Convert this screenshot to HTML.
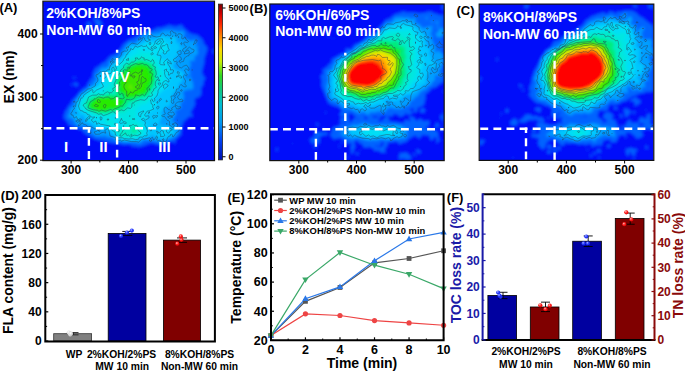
<!DOCTYPE html>
<html><head><meta charset="utf-8"><style>
html,body{margin:0;padding:0;background:#fff;width:685px;height:371px;overflow:hidden}
svg{display:block}
text{font-family:"Liberation Sans", sans-serif}
</style></head><body>
<svg width="685" height="371" viewBox="0 0 685 371">
<defs><clipPath id="clipA"><rect x="43" y="1.5" width="171.5" height="159.0"/></clipPath></defs>
<g clip-path="url(#clipA)" fill-rule="evenodd">
<filter id="blA" x="-5%" y="-5%" width="110%" height="110%"><feGaussianBlur stdDeviation="1.6"/></filter>
<g filter="url(#blA)">
<rect x="37" y="-4.5" width="183.5" height="171.0" fill="rgb(4, 10, 250)"/>
<path d="M43.6 6.0l0.5 1.0l-0.6 1.3l0.1 -2.3zM92.5 18.8l2 -0.4l5 1.5l2.4 3.1l0.2 1.0l-0.6 1.0l-3 2.6l-1.5 -1.6l-2.5 -5.4l-2.4 -1.6l0.4 -0.2zM89.5 21.9l1.7 2.1l0.2 1.0l-1.5 3.0l-1.4 0.6l-0.5 -0.6l0.3 -2.0l-1.6 -2.0l-0.2 -1.0l3 -1.1zM168.5 25.0l7 1.7l6 -1.9l3 4.2l2 0.9l2 2.6l4 1.7l4.8 0.8l5.2 4.5l1.5 4.5l2.5 2.4l0.8 1.6l-0.5 3.0l-2.7 8.0l0.3 3.0l-2.6 10.0l1.1 3.0l2.2 3.0l-0.1 1.0l-1.5 2.0l0 3.6l-2.7 3.4l0.6 6.0l-2.9 3.6l-3.3 0.4l-0.8 3.0l0.9 3.0l-5 9.0l2.2 1.6l0.4 1.4l-1.4 1.0l-2 -0.8l-1 0.5l-1 1.6l-3.6 2.7l-2.5 6.0l0.2 2.0l-0.7 3.0l0.5 2.0l-6.1 6.0l-0.2 1.0l0.7 1.0l-0.3 1.6l-1 -0.3l-1 -1.5l-2 -0.2l-10 3.2l-4 0.0l-5 -1.8l-2 0.0l-6 2.4l-6 1.5l-2 -0.7l-3 0.4l-4 -2.4l-6 0.6l-5 -1.5l-6 -0.4l-17.9 -3.9l-10.1 -6.2l-2 -3.1l-3 -0.5l-3 -1.7l-4 -0.9l-4.4 -2.6l-0.5 -1.0l0.2 -1.0l-2.2 -2.0l-2.1 -3.0l1.2 -3.0l0.1 -2.0l2.4 -3.0l0.7 -2.0l2 -2.0l2.6 -4.7l4.4 -4.3l1.6 -2.6l5 -5.2l3.2 -1.2l0.6 -1.0l0.4 -3.0l1.8 -1.0l1 -2.9l1.7 -1.1l0.9 -5.0l2.4 -5.0l3 -1.6l4 -3.4l2.8 -1.0l4.1 -5.0l3.1 -1.9l2 -0.1l1 -0.8l6 -6.6l1 -2.6l7 -5.4l3 -0.9l4 -2.4l6 -2.0l3 -3.2l6 -0.1l5.7 -3.0l1.3 -0.4l3 0.4l2 -1.1l2 -0.2l3 -1.7zM98.5 28.6l1 0.6l-1 0.6l0 -1.2zM98.5 31.8l0 1.8l-0.5 -0.6l0.5 -1.2zM212.5 49.7l2 0.0l0 4.8l-1.2 -1.5l-0.8 -3.3zM73.5 76.8l1 0.1l1.3 1.1l-1.3 0.8l-1 -0.5l0 -1.5zM74.5 82.8l2 0.2l1 0.7l0.7 1.3l-0.6 1.0l-1.1 0.3l-2.2 -1.3l-0.7 -1.0l0.9 -1.2zM71.5 84.0l1 -0.6l0.7 0.6l-1.7 2.5l0 -2.5zM43.5 107.0l0 1.5l0 -1.5zM182.5 133.7l1.1 0.3l-1.1 0.4l-0.9 -0.4l0.9 -0.3zM66.5 141.7l1.3 0.3l0.4 1.0l-0.7 0.7l-1.5 -0.7l0.5 -1.3z" fill="rgb(0, 100, 255)"/>
<path d="M166.5 30.0l3 0.5l2 -0.4l2 0.9l2 -0.2l4 1.0l1 0.0l1 -1.3l1 -0.1l1.5 1.6l0.8 2.0l-1.6 3.0l0.2 1.0l3.1 0.8l5 2.8l1 -1.6l1 -0.2l3 1.1l0.5 1.1l-1.7 4.0l1.2 0.9l1 -1.5l1.2 0.6l0 1.0l-1.7 1.0l1.2 5.0l-0.3 1.0l-2.9 2.0l-0.7 2.0l0.2 2.7l-1 0.5l-2 -1.1l-1.7 1.9l0.1 1.0l1.5 2.0l-2.2 2.0l0.7 1.0l-0.9 2.0l0.1 1.0l1.6 2.0l-1.2 2.0l0.1 1.0l0.9 0.3l1.4 4.7l1.3 2.0l-0.5 3.0l0.9 1.0l-0.1 1.0l-3 2.2l-1 -1.5l-1.7 1.3l-3.3 0.6l-1.4 1.4l-0.2 1.0l1.3 3.0l-0.4 2.0l-1.3 3.8l-2.3 2.2l1.4 3.0l-4.1 2.8l-2.8 1.2l0 1.0l2 2.0l-2 2.0l-1.2 3.1l-1.3 0.9l0.3 1.2l2 0.5l1 2.3l2.9 3.0l1.1 2.0l-1 4.3l-3 3.5l-9 4.5l-6 1.1l-2 -0.8l-3 -0.2l-2 -0.9l-9 -0.4l-1 0.0l-2 2.2l-3 1.5l-1 -1.2l-1.6 -0.6l-11.4 0.2l-6 -1.3l-2 0.1l-4 -3.7l-5 0.3l-2 -1.7l-1 -0.2l-3 1.0l-2 -1.1l-3 1.1l-3 -2.6l-3 -1.1l-1.1 -1.0l3.3 -1.0l0.5 -1.0l-0.7 -1.2l-5 -1.6l-1 -2.0l-6 1.0l-5 -1.6l-1 -3.4l-2 -2.3l-1 -0.8l-2 0.3l-1.2 -0.4l0 -3.0l2 -3.0l-0.6 -2.0l0.3 -1.0l4.5 -4.0l0.5 -4.0l3.5 -4.0l1.5 -3.0l7.5 -5.0l3 -3.8l1 0.4l2 -0.6l-0.3 -2.0l3.2 -3.0l0.4 -1.0l-1.4 -3.0l0.6 -2.0l2.5 -1.0l1.2 -3.0l1.8 -1.8l1 -0.6l3 0.1l3 -1.2l0.8 -1.5l-0.6 -2.0l5.5 -5.0l5.3 -1.0l1.4 -2.0l2.2 -5.0l2.1 -2.0l0.8 -2.0l1.8 -2.0l2.7 -1.8l3 1.1l2 -0.6l5.3 -5.7l3.7 -1.7l2 -1.5l7 0.0l3 -1.0l2 0.5l4 -2.6l4 -0.7zM190.3 54.0l0.2 1.4l1 -0.4l0.7 -1.0l-0.7 -0.4l-1.2 0.4zM186.4 76.0l-0.3 1.0l0.4 1.0l1 0.4l1.7 -1.4l0.2 -1.0l-0.9 -0.9l-2.1 0.9zM172.5 124.0l-1 1.0l1 0.3l0 -1.3zM192.5 68.8l0 0.4l-0.4 -0.2l0.4 -0.2zM195.5 78.9l0 1.2l-0.4 -0.1l0.4 -1.1zM185.5 102.8l0 0.6l-0.7 -0.4l0.7 -0.2z" fill="rgb(0, 158, 255)"/>
<path d="M169.5 33.0l1.5 1.0l-0.5 1.5l-1.4 -1.5l0.4 -1.0zM159.5 35.9l2 0.3l2 -0.6l6 2.0l5 -1.2l1.7 1.6l0.3 5.2l1 1.0l1 -2.2l1.3 0.0l-0.4 4.0l1.1 2.6l2 -1.9l0.9 1.3l-0.9 1.5l-3 -0.1l-1.5 1.6l0 4.0l-1.5 1.9l-1.9 1.1l0.9 4.0l-2 2.8l-0.3 1.2l0.9 2.0l2.4 1.9l4 0.9l2.4 1.2l0.5 1.0l-1.2 8.0l-3.2 3.0l-0.1 3.0l-0.9 2.0l-2 1.0l-3 4.0l-1.7 4.0l0.6 2.0l-1.9 4.0l0 2.0l-0.5 0.5l-3 -0.1l-2.4 1.6l-1.6 3.7l-1 0.0l-1 1.2l0.8 1.1l1.2 0.2l0.5 1.8l-2.2 2.0l-1.5 6.0l-0.1 1.0l1.3 0.5l2 0.1l2 0.8l4 -0.2l5.9 2.8l0.9 4.0l-0.8 1.3l-2 0.4l-1.3 1.3l-5.7 3.2l-6 -0.1l-2 0.5l-2 -2.9l-4 -1.4l-3 2.6l-4 0.0l-8 2.8l-11 -0.1l-5 -0.7l-3 -1.1l-3.4 -2.8l-2.6 -1.3l-2.5 -3.7l-1.5 -1.1l-6 -0.9l-3 -1.4l-2.1 0.4l-2.1 -1.0l-3.8 -3.7l-3 -0.4l-2.5 -1.9l-1.2 -4.0l-1.3 -1.4l-2 -0.5l-0.8 0.9l0.7 3.0l-0.9 1.0l-3 -1.8l-1 -1.7l-1.5 -0.5l-0.7 -1.0l1.2 -1.1l2 1.8l2.9 -1.7l-0.9 -1.4l-2.7 -1.6l0.4 -4.0l1.4 -6.0l3.9 -5.6l6.1 -4.4l2.9 -2.7l5 -2.1l1.4 -1.2l2.9 -4.0l0.2 -1.0l-0.7 -3.0l2.2 -4.4l1 -1.0l3 -0.7l3 -1.8l4 -4.9l2 -0.6l2 -3.0l3 -1.7l3.4 -2.9l2.6 -3.9l2.9 -2.1l1.4 -4.0l0.7 -0.6l4 0.3l5 -2.4l2 -1.6l3 -0.6l2 -1.9l3 -1.2l5 1.6l2.6 -2.6l2.4 -1.1zM176.3 83.0l0.2 0.4l0.7 -0.4l-0.9 0.0zM151.6 125.0l3.9 2.0l2.9 -1.0l-0.4 -1.0l-4.5 -0.9l-1 0.0l-0.9 0.9zM178.5 36.0l1 -0.4l0.3 0.4l-0.3 0.4l-1 -0.4zM172.5 104.7l0 0.6l0 -0.6z" fill="rgb(0, 198, 254)"/>
<path d="M160.5 39.6l2 -0.4l1 0.4l1 2.7l2 0.3l3.2 4.4l-0.2 1.5l-3.7 5.5l-1.3 0.6l-0.6 -0.6l-1.4 -3.4l-1 0.4l-1 4.0l0.4 4.0l0.6 0.7l6.2 0.3l0 3.0l1 2.0l-0.4 3.0l2.2 1.5l0.5 1.5l-1.5 1.0l-0.4 1.0l1.3 2.0l-4 2.0l1.1 2.0l2 0.5l1 1.5l-2 0.9l-1 -0.5l-1.2 1.6l0.2 1.4l2.2 1.6l0.2 1.0l-3.4 1.4l-3.1 2.6l-8.7 9.0l-0.1 1.0l0.9 0.8l2.8 1.2l0 2.0l-2.8 1.9l-1.1 3.1l-2.9 1.0l-1.6 2.0l-2.7 1.0l-0.4 1.0l2 2.0l-1.3 2.7l-1 0.6l-2 -1.1l-1 0.6l0.2 1.2l0.8 0.9l2 0.7l1 1.4l-1.2 2.0l1.8 2.0l-0.3 3.0l1.5 2.0l-0.8 2.5l-3 0.0l-3 2.0l-3 0.4l-3 1.5l-10 0.0l-5 -0.8l-5.5 -3.6l-3 -4.0l-4.5 -3.8l-10.5 -3.2l-2.5 -2.4l-2 0.0l-3.8 -2.6l-0.1 -3.0l-2.1 -2.3l-6 -2.7l-1 -2.0l-0.3 -5.0l0.9 -3.0l2.4 -3.8l8 -7.4l8.8 -3.8l2.2 -4.0l2.7 -2.0l0.3 -3.0l2 -3.6l2 -1.4l1 0.8l1 -0.5l0.5 -3.3l0.7 -1.0l7.8 -5.8l3.8 -4.2l3.2 -2.3l2.1 -0.7l0.3 -2.0l2.1 -2.0l0.8 -2.0l10.7 -3.0l4 -3.2l10 0.5l4 -3.7zM157.4 55.0l1.1 0.5l2 -0.5l-2 -0.7l-1.1 0.7zM166.5 128.6l1 -0.3l0.7 0.7l-0.1 1.0l-3.3 3.0l-1.3 3.0l-2 -0.6l-0.5 -0.4l0.2 -1.0l2.4 -2.0l-0.4 -2.0l3.3 -1.4z" fill="rgb(0, 222, 246)"/>
<path d="M138.5 49.0l2 0.1l0.9 0.9l0.1 1.2l4 1.5l5.2 -0.7l0.9 1.0l-1 1.0l6.2 5.0l2.7 8.3l4.1 5.7l-0.1 1.7l-2.3 2.3l0.2 1.0l2.1 -0.7l0.6 0.7l-0.1 1.0l-1.8 1.0l-2.2 3.0l0.4 4.0l-5.1 5.0l-1.1 4.0l-2.7 1.8l-4 5.1l-4 1.9l-2 -0.6l-1.9 1.8l-1.1 2.1l-3.2 2.9l0.3 1.0l1.7 1.0l-0.2 1.0l-2.1 2.0l1.5 4.3l2 2.2l2 0.5l2.3 4.0l0.7 3.0l-0.1 3.0l-0.6 1.0l-7.3 3.8l-10 0.3l-4 -0.5l-2 -0.6l-3.8 -3.0l-0.4 -3.0l-1.2 -2.0l0.5 -1.0l2.9 -0.9l6 0.4l1.3 -1.5l0.7 -3.0l-2 -2.2l-3 -1.5l-2 -0.3l-0.7 -1.0l-0.3 -2.4l-5 -0.5l-4 1.9l-0.8 1.0l1.8 1.5l3 -0.7l2.7 2.2l-0.6 5.0l-1.1 1.4l-6.6 -3.4l0.2 -1.0l-0.6 -0.4l-2.1 -0.6l-0.2 -1.0l0.9 -3.0l-0.6 -0.7l-7 -1.3l-3 0.2l-9 -5.2l-3.8 -4.0l-0.9 -3.0l2.1 -4.0l4.3 -4.0l3.3 -4.0l1 -0.4l2 0.7l2 -1.5l6 1.9l2 -1.7l0.2 -2.0l0.8 -1.3l1 -0.5l3 -0.1l0.6 -2.1l-0.9 -2.0l2.4 -2.0l0.1 -3.0l2.7 -2.0l1.1 -3.2l3.1 -4.8l6.9 -7.8l2 -0.1l2 -1.0l2.2 -2.1l2.8 -1.1l2 -1.7l2 -0.7l2 0.2l1.2 -0.7l0.6 -1.0l-4 -1.0l-0.2 -1.0l1.4 -1.0z" fill="rgb(0, 230, 225)"/>
<path d="M135.5 57.8l5 -0.6l2 1.2l3 -0.3l1 1.0l3 0.7l4.8 3.2l1.9 3.0l1 3.0l1 4.0l-0.2 4.0l0.7 2.0l-0.1 1.0l-1.6 2.0l-0.2 5.0l-4 5.0l-1.3 2.5l-3.3 3.5l-1.7 1.6l-1 0.4l-3 -0.4l-3 1.9l-3 1.1l-3 3.6l-1 0.8l-3 0.2l-1 0.6l-1.7 3.2l-4.3 2.4l-2 -0.8l-4 0.7l-3 -0.7l-2.1 0.4l-3.9 2.1l-6 -1.1l-3 0.6l-9 -3.0l-3 -2.3l-3 -4.3l1.1 -3.0l2.4 -3.0l4.5 -3.3l7 -1.4l5 -0.1l4 -2.2l4.1 0.0l0.4 -2.0l1.1 -2.0l0.3 -4.0l2.2 -7.0l0.9 -2.1l2.8 -2.9l1.9 -4.0l3.3 -4.1l3.1 -0.9l3.9 -3.5l1 -0.2l1 0.6l2 -2.1zM132.5 124.9l4 0.7l1.8 1.4l2.2 4.2l0.2 1.8l-5.2 2.5l-3 0.6l-4 -0.8l-6 1.1l-2.2 -0.4l-1.3 -5.0l0.5 -0.5l5 -1.6l2 -1.2l3 -0.4l3 -2.4z" fill="rgb(0, 235, 198)"/>
<path d="M138.5 60.7l2 -0.2l8 1.8l5 3.7l0.7 3.0l1.3 2.5l0.2 1.5l-0.8 3.0l0.2 4.0l-1 5.0l-5.9 10.0l-3.7 1.9l-6 1.1l-3 1.9l-7 2.4l-0.8 0.7l-0.8 3.0l-2.4 2.3l-8 3.1l-6 0.1l-4 1.8l-4 -0.6l-3 0.6l-9 -2.9l-2 -1.4l-1.3 -2.0l-0.4 -4.0l4.7 -4.8l8 -2.5l4 0.1l7 -1.5l4 0.6l2.6 -0.9l-2.5 -3.0l1.7 -4.0l-0.5 -3.0l1.1 -3.0l0.2 -3.0l2.7 -3.0l2.2 -5.0l4.5 -4.3l5 -2.4l4 -1.1l3 -1.5zM133.5 128.8l1.7 0.2l0.9 1.0l-0.6 1.6l-2 1.0l-1.2 -0.6l-0.5 -2.0l1.7 -1.2z" fill="rgb(0, 235, 127)"/>
<path d="M139.5 62.9l3 1.3l4 0.5l3.5 2.3l0.9 3.0l1.7 2.0l1 7.0l-1.6 3.0l-1.7 6.0l-4.8 6.2l-8 2.3l-3 1.6l-4 -0.2l-2 0.8l-3.3 0.3l-0.8 -4.0l-1.9 -1.6l-2 0.1l-2.7 -3.5l1.4 -3.0l-0.9 -3.0l1.1 -5.0l3.4 -6.0l4.7 -3.9l1.2 -2.1l10.8 -4.1zM99.5 97.0l6 0.2l4 -1.0l5 1.0l2 -0.2l4 1.7l3.6 0.3l0.8 3.0l-3.4 4.3l-6 2.9l-6 0.9l-3 1.4l-4 -0.1l-3 0.6l-8.4 -3.0l-1.6 -1.5l-0.6 -1.5l1.2 -3.0l2.9 -3.0l3.5 -2.2l3 -0.8z" fill="rgb(12, 235, 28)"/>
<path d="M134.5 66.9l2 -0.7l3 0.3l4 0.9l4 2.1l2 5.9l0.5 4.6l-1.5 3.8l-2 0.2l0.2 1.0l-1.3 4.0l-2.2 3.0l-8.7 3.6l-7 0.1l-1 -0.6l-4.7 -7.1l-1 -6.0l3.7 -7.3l4 -2.9l2 -2.2l2 -0.4l2 -2.3zM97.5 98.8l9 0.0l3 -0.5l8.5 3.7l0.7 1.0l-1.7 3.0l-2.5 1.7l-6 0.3l-3 1.6l-8 -0.2l-2 -0.8l-3.5 -3.6l0.2 -1.0l2.3 -1.2l1.6 -2.8l1.4 -1.2z" fill="rgb(38, 235, 2)"/>
<path d="M141.5 69.9l1.1 0.1l0.3 1.0l-0.4 0.7l-1 -0.1l-0.4 -0.6l0.4 -1.1zM135.5 71.3l4 0.7l2.3 3.0l0.5 3.0l-1.8 2.5l-0.3 1.5l0.1 1.0l2 2.0l-0.2 1.0l-1.2 3.0l-1 1.0l-4.4 0.6l-3 1.9l-3 0.8l-2 -0.2l-3.9 -6.1l1.9 -8.5l2.3 -0.5l1 -2.0l4.7 -2.7l2 -2.0zM97.5 101.0l1 -0.5l0.8 0.5l0.5 1.0l-0.3 1.1l-1 0.5l-1 -1.3l0 -1.3z" fill="rgb(59, 232, 0)"/>
<path d="M129.5 84.5l1 -0.4l1.4 2.9l1.3 1.0l0.2 1.0l-0.9 0.8l-2.2 -0.8l-2.2 -2.0l1.4 -2.5z" fill="rgb(101, 233, 0)"/>
</g>
<path d="M171.5 30.8l1 0.3l1 1.6l2.1 0.3l0.6 1.0l-1 2.0l1.8 0.0l1.5 -2.3l2.6 0.3l1 1.0l-0.4 3.0l0.5 1.0l1.3 -0.3l1 -1.7l1.5 1.0l-0.4 1.0l2.6 2.0l0.1 1.0l-0.8 0.6l-3 -0.7l-0.9 1.1l0.9 2.0l2 2.0l-3.5 2.0l-0.4 1.0l0.1 1.0l1.9 1.0l-0.3 2.0l4.7 -1.0l0.5 -1.0l-1 -1.7l-1 0.0l-2 1.2l-0.2 -0.5l4.2 -4.1l2 2.2l2 0.2l0.7 0.7l-0.7 2.1l-4 1.8l-1 2.0l-1 0.0l-3.1 2.1l-0.9 3.4l-2 0.4l-1 0.9l-1.2 -0.7l-0.3 -1.0l2.2 -1.0l0.3 -1.0l-0.8 -2.0l-2.2 -1.4l-2.6 2.4l-2.1 1.0l-0.5 1.0l1.2 1.8l2 -0.6l0.9 0.8l-0.7 1.0l0.1 1.0l2.7 3.4l2 0.5l2 -1.7l3 -1.2l2.2 3.0l0.4 2.0l-0.6 0.5l-2 -1.4l-1 0.0l-1 0.9l1.9 4.0l1 1.0l-0.9 0.7l-2 -0.8l-1.2 1.1l0.2 1.4l2.2 3.6l-1 3.0l1.8 2.0l-0.8 1.0l-0.7 0.0l-2.5 -1.0l-1 -1.4l-1 0.4l-1.1 1.0l0 2.0l-0.9 0.8l-2 0.3l-0.5 2.9l-1 1.0l-1.4 3.0l-2.4 0.0l-0.2 1.0l0.7 2.0l-0.5 2.0l0.3 1.8l1 0.6l1 -0.2l0.5 -1.2l-1.1 -2.0l2.5 -2.0l-0.8 -2.0l1.9 -1.3l0.2 -1.7l0.8 -0.7l2 -0.1l0.4 0.8l-0.4 1.7l-2.2 2.3l2.2 2.9l2 -0.8l1.3 0.9l0 1.0l-0.3 0.5l-5 0.5l-2 2.0l-0.3 1.0l0.3 0.7l1 -0.2l2 1.3l2 -0.1l0.2 1.3l-2.2 0.8l-2 0.0l-1 -2.5l-1 -0.1l-2.9 1.8l0.6 2.0l-1.7 0.8l-1 -1.2l-1 0.1l-1.4 -1.7l-1.6 -0.8l-1 0.5l-0.5 1.3l0.3 3.0l1 1.0l-0.2 1.0l-0.6 0.7l-2 0.2l-0.9 1.1l0.9 0.6l2 -0.1l3 4.0l1 -0.1l0.7 0.6l0.6 3.0l-0.9 1.0l2.6 1.2l1 1.4l1.9 -1.6l-0.9 -1.9l-1 0.7l-0.5 -0.8l1.5 -0.1l0.7 -0.9l1.3 -0.2l2 1.2l0.3 2.0l-1 1.0l2.6 2.0l-0.2 1.0l-0.7 1.4l-2 1.0l-3 4.3l-1 -0.2l-0.1 -1.5l-0.9 -1.0l-1 0.5l-0.3 1.5l-1.7 0.4l-1.1 1.6l-0.9 3.1l-1 0.5l-3 -0.4l-1 1.1l-0.7 -0.3l0.3 -1.0l-0.6 -0.4l-1 -0.3l-2 0.6l-0.9 -0.9l1.1 -3.0l-1.2 -1.1l-0.7 2.1l-2.3 2.0l-1 -2.7l-2 1.2l-1 -0.7l-5 1.3l-2.3 -0.1l-3.7 3.1l-2 -0.5l-5 0.0l-7 -1.6l-3 1.1l-1 -0.9l-4 0.5l-1.1 -0.7l0.1 -2.4l-5.5 -1.6l-0.9 -5.0l-1.6 -2.5l-2.3 1.5l-0.5 1.0l0.9 1.0l-0.1 1.2l-2 -0.9l-2.5 0.7l-1.5 1.1l-4 0.2l-1.5 -2.3l2.5 -0.6l1.8 -1.4l-1.8 -1.3l-2 0.0l-4 -2.3l-3 0.5l-1.1 -1.9l-3.5 -1.0l-0.4 -1.3l-0.9 0.3l-1.1 2.0l-2 1.0l-0.1 -1.0l1.8 -2.0l-0.1 -1.0l-0.6 -0.8l-2 1.1l-1.8 -1.3l2.8 -1.0l2 1.0l1.1 -1.0l-1.1 -1.2l-1 0.0l-1 1.2l-1 -0.7l-1 -2.7l-2 1.2l-1 -0.5l-0.5 -2.3l-1.8 0.0l-0.3 -2.0l1.4 -1.0l-0.1 -1.0l2.5 -3.0l-1.3 -1.0l0 -1.0l1.1 -0.1l1 0.7l0.7 -4.6l1.3 -0.3l0.5 -0.7l0.3 -2.0l3.2 -5.3l2 -1.0l4.3 -3.7l2.7 -0.3l4.6 -2.7l0.5 -1.0l-0.1 -1.5l2 -2.1l0.5 -1.4l-0.5 -2.0l-1.6 -2.0l0.6 -1.4l2 -0.5l2 -2.4l1 0.4l2 -0.7l2 0.0l1.1 -0.4l0.9 -1.3l2 0.3l-0.4 -1.0l1.4 -3.6l1.7 -1.4l-1.7 -1.1l0 -1.6l1.3 -0.3l0.7 1.8l1 0.0l1 -0.8l-2 -1.3l-0.7 -1.7l0.7 -0.5l2 1.4l2 -1.6l1 0.8l1 -0.7l2.8 -3.4l0.1 -2.0l0.8 -1.0l2.3 -1.0l2 0.2l1.6 -1.2l-1.6 -1.6l0 -0.9l1 -0.5l1 0.8l0.1 -1.8l2.9 -2.5l1 -0.3l5 1.2l3.7 -3.4l0.8 -1.0l0.2 -2.0l1.3 -0.7l1 0.8l0.4 1.9l1 1.0l1.6 0.6l1 -0.4l1 -1.1l1 -0.1l-2.5 -1.0l0 -3.0l0.5 -0.6l3 -1.0l0.9 1.6l4.1 1.0l4 -0.7l0.7 -2.3l1.3 -0.8l1 0.2l2 2.5l2 -1.1l2 1.0l1 -0.3l0.6 -1.5l-1.1 -2.0l1.5 -1.2M172.5 35.9l0 0.6l0.6 -0.5l-0.6 -0.1M150.5 36.8l-0.4 0.2l0.4 0.2l0.7 -0.2l-0.7 -0.2M178.5 36.5l-0.4 0.5l0.4 0.7l0.5 -0.7l-0.5 -0.5M139.5 37.7l1.6 0.3l-0.2 1.0l-2.4 1.2l-0.2 -1.2l1.2 -1.3M170.5 37.7l0 1.0l1 0.5l0.3 -1.2l-1.3 -0.3M195.5 39.9l1.5 0.1l0.2 1.0l-1.7 2.5l-1 0.1l-0.4 -0.6l1.4 -3.1M171.5 41.3l-0.6 1.7l0.6 0.9l0.6 -1.9l-0.6 -0.7M181.5 42.5l-0.9 1.5l0.9 0.7l0.6 -1.7l-0.6 -0.5M193.5 43.8l0.4 0.2l-0.4 1.1l0 -1.3M179.5 50.8l-2.6 1.2l1.6 2.4l2 0.2l0.6 -0.6l-0.1 -3.0l-0.5 -0.5l-1 0.3M192.5 69.9l-0.7 0.1l0.7 -0.1M189.5 79.2l1 -0.1l0.5 0.9l-0.5 0.6l-1 0.2l0 -1.6M89.5 84.8l0.6 0.2l-0.6 0.3l0 -0.5M173.5 86.6l0 1.9l0 -1.9M181.5 89.5l0.8 0.5l-0.8 1.4l-0.8 -0.4l0 -1.0l0.8 -0.5M166.5 100.1l-0.4 0.9l0.4 1.2l1 -1.2l-1 -0.9M73.5 101.5l1 -0.3l0.6 0.8l-1.6 0.2l0 -0.7M75.5 112.8l1.1 0.2l-1.1 -0.2M168.5 112.3l2 -0.2l1 0.6l1 -0.7l1 0.2l0.9 1.8l-0.3 1.0l-1.6 0.8l-2 0.1l-2.8 -1.9l0.8 -1.7M167.5 116.9l3 -0.9l2.3 1.0l-3.3 1.4l-2 -1.5M177.5 119.9l0 0.4l0 -0.4M154.5 123.4l-1.5 1.6l0.5 0.5l2 0.2l1.5 -0.7l-0.1 -1.0l-1.4 -1.0l-1 0.4M166.5 123.5l0 0.7l0.8 -0.2l-0.8 -0.5M99.5 129.6l-0.9 0.4l-0.2 1.0l1.1 0.6l0.5 -0.6l-0.5 -1.4M90.5 131.6l0.6 0.4l-0.6 1.8l-0.6 -0.8l0.6 -1.4M163.5 138.6l-0.7 0.4l-0.4 1.0l1.1 0.8l0.5 -1.8l-0.5 -0.4M149.5 139.9l1 -0.8l1.1 0.9l0 1.0l-1.1 0.4l-1 -0.4l0 -1.1" fill="none" stroke="#2a3a50" stroke-opacity="0.75" stroke-width="0.6"/>
<path d="M158.5 39.0l4 -0.2l0.1 1.2l1.3 2.0l-1.6 1.0l-1.3 2.0l-1.5 5.0l-1.4 2.0l0 1.0l-1.2 2.0l3.6 0.4l0.6 1.6l-1.1 4.0l-0.2 3.0l0.7 0.6l4.4 0.4l-1.2 -2.0l0.1 -1.0l3.7 -3.3l1 1.8l2 1.1l1 2.4l-2.5 -1.0l-1.5 -1.4l0.4 2.4l2.6 4.0l-0.2 2.0l2.2 -0.3l0.8 0.3l0.3 1.0l-1.1 2.3l-2 0.1l-1 1.8l-1 -0.1l-0.1 -3.1l-2 -1.0l0.3 -2.0l-2.5 1.0l0.7 2.0l-0.5 1.0l1.1 3.7l3.3 3.3l0.2 2.0l-1.5 -0.1l-1 -1.3l-1 0.0l-2.4 1.4l-1.1 4.0l-1.8 1.0l-2.4 4.0l0.4 1.0l-1.3 4.0l-2.2 2.0l-0.4 1.0l0.9 1.0l-1.7 1.8l-1 -0.8l0 -1.3l-1 -0.6l-1 0.9l0.9 4.0l1.7 1.0l-0.5 2.0l1.2 2.0l-4.3 1.8l-2.2 0.2l-2.8 4.0l1 1.3l3 -0.6l0.7 1.3l-0.3 1.0l-3.4 2.1l-2 -1.8l-2 0.7l0.4 1.0l2.6 0.8l1.1 2.2l-0.9 2.0l1.4 2.0l1.4 4.0l-0.9 2.0l0.7 2.0l-0.8 1.0l-2 -0.3l-2 1.5l-3 -0.2l-1 2.2l-1 0.2l-2 0.2l-3 -0.9l-4 0.3l-4 -0.4l-2 -0.8l-4 -0.1l-3.1 -2.7l-0.3 -3.0l-2.6 -1.4l-2.8 -2.6l0.4 -2.0l-9.6 -1.8l-2 -1.4l-1 1.3l-1 0.1l0.1 -1.2l-0.9 -2.0l-2.2 1.3l-2.3 -2.3l3.7 -3.0l-2.4 0.2l-2 -0.6l-0.8 -1.6l-2.2 -0.4l-1 -1.7l-3.3 -0.9l-0.7 -1.2l-2 -0.1l-1.1 -1.7l-0.9 -3.0l2.2 -7.0l0.4 -1.0l1.4 -0.2l0.9 -0.8l-0.1 -1.0l1.8 -2.0l6.4 -4.1l1 -0.3l0.4 0.4l-0.2 2.0l0.8 0.9l3 -2.8l6.7 -3.1l0.2 -1.0l-2.2 -4.0l0.2 -1.0l1.1 -2.5l2 -0.1l2.2 -2.4l-0.4 -1.0l-1.9 -1.0l0 -1.0l1.8 0.0l0.3 0.9l4 -0.3l1.8 -2.6l-0.7 -2.0l0.9 -1.5l1 -0.5l0.9 2.0l-0.4 1.0l0.5 0.5l1 -0.2l1.1 -2.3l-1.7 -2.0l1.8 -2.0l0.6 -2.0l0.4 0.0l0.1 1.0l0.7 0.8l1 0.5l3.6 -3.3l0.4 -1.7l2 -2.2l1 -2.8l1 -0.1l0.8 -2.2l1.8 -1.0l0.4 -2.3l1 0.0l1.1 1.3l2.8 -4.0l2.1 1.2l4 -1.6l2 1.0l3 -0.5l1.2 0.9l0.8 1.8l2 0.4l1 1.5l1 0.0l0.6 -1.7l-0.6 -0.4l-1 0.3l-0.5 -1.9l1.5 -0.3l2.1 -2.7l0.8 -3.0l3.1 -2.0M159.5 40.7l-2.8 2.3l-0.1 1.0l1.9 0.3l3 -2.3l-1 -1.3l-1 0.0M149.5 42.5l1 -0.2l0.4 0.7l-0.4 1.6l-1 0.2l-0.5 -0.8l0.5 -1.5M146.5 44.9l0 0.5l0 -0.5M165.5 44.7l1 -0.6l1 0.4l0.7 3.5l1.2 2.0l-0.9 0.9l-1.5 0.1l-0.6 2.0l-0.9 1.0l-1 0.0l-1.5 -1.0l1.1 -2.0l-2.4 -2.0l-0.4 -1.0l1.2 -2.3l2 0.0l1 -1.0M154.5 46.7l-0.9 1.3l0.9 0.5l1.9 -0.5l-0.1 -1.0l-0.8 -0.6l-1 0.3M143.5 49.3l-0.6 0.7l0.6 0.4l1.4 -0.4l-1.4 -0.7M152.5 52.5l-1.9 1.5l0.9 0.8l1.9 -0.8l-0.9 -1.5M127.5 58.9l-1.5 1.1l2.5 0.4l0 -2.2l-1 0.7M177.5 71.6l1.5 0.4l0.5 0.9l-1 1.4l-1.3 -1.3l0.3 -1.4M100.5 75.0l0.5 1.0l-0.5 1.0l-0.6 -1.0l0.6 -1.0M176.5 76.0l2 -0.1l1 -0.7l2 1.4l0.1 1.4l-1.1 0.0l-2 -1.9l-2 1.2l0 -1.3M170.5 77.7l0.6 0.3l-0.6 0.9l-0.8 -0.9l0.8 -0.3M158.5 82.9l-0.4 1.1l1.4 1.3l1 -1.3l0.1 -1.0l-2.1 -0.1M165.5 83.8l2 0.9l0.7 1.3l-3.7 2.9l-0.9 -0.9l0 -3.0l1.9 -1.2M103.5 90.8l-0.6 0.2l0.6 -0.2M160.5 98.3l1.1 0.7l-2.1 2.4l-0.5 -0.4l0.1 -1.0l1.4 -1.7M157.5 101.3l0.6 0.7l-0.6 1.3l-0.7 -0.3l0.7 -1.7M154.5 104.0l0 1.2l0 -1.2M157.5 106.2l1 0.0l0.7 0.8l-0.7 1.4l-1 0.4l-1.1 -0.8l1.1 -1.8M143.5 110.8l-4.9 2.2l0 2.0l0.9 1.6l1.1 0.4l0.4 -3.0l2.6 -2.0l-0.1 -1.2M149.5 111.7l0 1.3l-1 0.5l0 -1.2l1 -0.6M157.5 112.6l0 0.8l0 -0.8M153.5 115.4l2 0.5l2 -0.3l0.3 0.4l-1.3 1.6l-1 -0.6l-2 1.5l-0.9 -2.5l0.9 -0.6M88.5 116.6l1.5 0.4l-0.5 1.6l-2 0.4l-0.6 2.0l-1.4 0.4l-0.3 -0.4l1.3 -2.4l2 -2.0M100.5 116.8l-0.5 0.2l0.5 3.2l1 -0.2l0.6 -2.0l-0.6 -1.0l-1 -0.2M96.5 117.1l0 1.1l0 -1.1M115.5 117.2l-0.6 0.8l0.6 0.7l0.4 -0.7l-0.4 -0.8M121.5 118.3l-1.8 3.7l0.1 1.0l0.7 0.6l3 -1.0l1 1.3l2 -0.7l-1 -1.4l-2 -0.1l-1.6 -1.7l-0.4 -1.7M114.5 123.7l0 1.1l1 0.5l2 -0.7l0.2 -0.6l-2.2 -0.6l-1 0.3M123.5 125.7l-0.4 0.3l0.4 0.5l0.6 -0.5l-0.6 -0.3M150.5 127.3l0.7 0.7l0.4 2.0l-0.1 0.7l-1 0.2l-1.1 -1.9l0.2 -1.0l0.9 -0.7M168.5 127.9l3 0.9l0.8 1.2l-1.8 0.4l-1 2.0l-1 0.7l-1 -0.3l-1.4 -1.8l1.4 -2.8l1 -0.3M156.5 131.0l1 0.1l0.9 0.9l0 1.0l-0.9 0.7l-1 -2.7M161.5 130.5l1.8 0.5l0.2 2.0l1.3 2.0l-0.4 1.0l-0.9 0.4l-3 0.1l-0.2 -0.5l0.7 -1.0l-1.2 -2.0l0.1 -1.0l1.6 -1.5" fill="none" stroke="#2a3a50" stroke-opacity="0.75" stroke-width="0.6"/>
<path d="M141.5 56.7l1 0.9l1.9 0.4l-0.6 1.0l0.7 1.2l2 -0.7l3 1.2l1 1.0l1 -0.4l1 -1.9l0.8 0.6l1.1 3.0l-1.9 2.0l1 1.3l2 0.7l-0.7 2.0l1.1 2.0l0.4 3.0l-0.1 1.0l-1 1.0l0 1.0l1.3 0.4l1 -0.6l0.7 0.2l0.2 2.0l1.4 1.0l-0.3 1.0l-1 -0.2l-1 -1.7l-2 2.7l-0.3 3.2l1.2 2.0l-0.8 1.0l-2 1.0l0.2 1.0l-2.4 3.0l1.4 2.0l-0.9 1.0l-1.4 0.4l-2 -0.4l-2 3.1l-2 1.2l-4 -0.6l-5 1.5l-1.3 0.8l-0.7 1.3l-1 -0.5l-0.6 1.2l0 3.0l-1.4 1.4l-3 -0.5l-3 2.5l-1 0.3l-2 -0.8l-3 1.1l-2 3.1l-1 -0.3l-1 -1.8l-2 -0.2l-5 2.5l-4 1.3l-1.3 -0.6l-0.7 -1.3l-3 0.6l-2 -1.4l-8 -2.5l-2.6 -1.4l-0.4 -1.1l-2.2 -1.9l0 -1.0l1.2 -1.4l2 -0.6l2.1 -6.0l3.9 -1.8l4 -0.1l2 -1.4l2 1.1l1 -0.3l2 0.6l1 -1.7l3 -1.6l2 0.9l2 0.0l1.8 -1.7l0.2 -1.0l-1.1 -1.0l2.8 -2.0l0.4 -1.0l-1.1 -0.5l-0.3 -1.5l1.9 -4.0l-0.2 -3.0l1.9 -1.0l2 -3.0l1 -3.0l2.7 -2.0l0.2 -2.0l0.8 -1.0l2 -2.0l2 1.2l1 -0.1l2 -1.9l2 -0.2l2.6 -2.0l-1 -2.0l2.4 -0.1l0.2 1.1l0.8 0.4l2 -0.9l1 -1.8M160.5 75.5l0.6 0.5l-0.6 0.5l-0.6 -0.5l0.6 -0.5M109.5 93.7l0 0.5l0 -0.5M134.5 104.8l0 0.4l0 -0.4M129.5 115.8l0.7 0.2l-0.7 0.3l0 -0.5M107.5 118.9l1.2 0.1l-0.1 1.0l-1.6 0.0l0.5 -1.1M132.5 118.9l2 -0.4l0.5 0.5l-0.5 0.7l-2.5 -0.7l0.5 -0.1M132.5 124.7l1 -0.2l1 1.1l2 -0.4l0.8 0.8l1.3 2.0l-0.9 2.0l2.8 2.3l0.4 0.7l-0.3 1.0l-3.1 1.6l-3 -0.4l-2 0.5l-1 1.2l-1 0.1l-2 -1.9l-1 0.5l-1 -0.4l-1 -2.3l-4 3.2l-1.6 -0.1l0 -1.0l2.5 -3.0l0.1 -1.2l4 -2.9l3 0.5l0.8 -1.4l-1 -1.0l0.2 -0.5l2 -0.1l1 -0.7M118.5 129.7l1.1 0.3l-1.1 2.1l-0.8 -1.1l0.8 -1.3M131.5 134.1l-1 0.9l1 0.6l0.6 -0.6l-0.6 -0.9" fill="none" stroke="#2a3a50" stroke-opacity="0.75" stroke-width="0.6"/>
<path d="M135.5 63.6l3 0.8l4 -1.0l2 1.3l2 0.0l2 1.5l1 2.0l2 0.5l0.8 1.3l-2.8 2.0l3.4 2.0l-1.6 4.0l0.6 2.0l-0.8 4.0l-1.6 1.5l-1 1.9l-1.4 0.6l-0.3 1.0l1.1 2.0l-1.7 2.0l-0.7 2.1l-1 0.7l-2 -1.5l-3 1.6l-4 -1.1l-0.5 2.2l-1.5 1.8l-3 1.1l-4 -0.7l-1.4 3.8l-1.6 1.4l-1 1.9l-2 -0.5l-1 1.3l-5 1.8l-2 1.4l-2 -0.8l-5 1.8l-4 -1.2l-1.6 0.9l-1.4 0.1l-1 -0.8l-4 -0.5l-5.3 -1.8l-0.2 -1.0l2.5 -5.4l3.3 -1.6l0.7 -1.4l1 0.3l3 -2.1l5 1.4l2 -1.0l3 -0.3l2 2.2l3 -0.6l1.4 -1.5l1.6 -0.6l2 1.8l4 0.7l1 -0.4l0.8 -1.5l-1.1 -1.0l-0.1 -2.0l-1.6 -0.9l-1 1.5l-1 0.3l-1.3 -3.9l0.5 -2.0l-0.3 -2.0l1.3 -2.0l-0.3 -3.0l2.1 -2.0l1.2 -2.0l-0.4 -4.0l1.7 -1.0l-0.8 -2.0l0.5 -1.0l0.8 -0.3l3 0.6l0.7 -1.3l-0.7 -1.4l1.1 -0.6l0.9 1.5l0.9 -2.5l5.1 -2.4M149.5 88.3l0.6 0.7l-0.6 1.2l-0.5 -0.2l0.5 -1.7" fill="none" stroke="#2a3a50" stroke-opacity="0.75" stroke-width="0.6"/>
<path d="M141.5 69.8l1 0.0l0 1.6l-1 0.3l0 -1.9M129.5 71.1l0.6 0.9l-0.4 1.0l0.8 3.1l1.6 -0.1l-0.6 -1.0l0.5 -1.0l3.5 -2.0l3 1.6l1.2 -1.6l0.8 -0.2l1 0.5l0.4 1.7l-0.4 0.6l-2 0.5l-0.9 5.9l-2.1 1.0l1.6 2.0l0.1 1.0l-3 2.0l3.2 2.0l-1.1 1.0l-2.8 0.9l-1 1.6l-1 0.5l-2 -1.3l-0.3 1.3l-2.2 2.0l-0.5 1.5l-0.8 -0.5l0 -5.0l-1.4 -1.0l-1.5 -3.0l0.6 -3.0l1.7 -1.0l-0.2 -2.0l1.2 -2.0l-1.6 -0.7l-0.3 -1.3l4.3 -5.9M133.5 75.9l-0.6 0.1l-0.4 1.0l1 1.2l1.5 -1.2l0 -1.0l-1.5 -0.1M142.5 76.2l2 2.2l1 -0.1l0.8 1.7l-0.8 1.7l-3.1 1.3l-1.1 3.0l0.2 1.0l-2 1.9l-0.8 -0.9l1.5 -4.0l0.9 -1.0l0.1 -4.0l0.5 -2.0l0.8 -0.8M97.5 99.8l1 -0.6l1.6 1.8l0.4 1.0l-1 1.0l-2 -1.0l0 -2.2M95.5 104.3l2 0.6l1.1 1.1l-2.1 0.6l-2.2 -0.6l1.2 -1.7M104.5 104.3l1.7 0.7l-1.3 3.0l-0.4 0.1l-1.4 -2.1l1.4 -1.7" fill="none" stroke="#2a3a50" stroke-opacity="0.75" stroke-width="0.6"/>
</g>
<defs><clipPath id="clipB"><rect x="270" y="4" width="174" height="156.5"/></clipPath></defs>
<g clip-path="url(#clipB)" fill-rule="evenodd">
<filter id="blB" x="-5%" y="-5%" width="110%" height="110%"><feGaussianBlur stdDeviation="1.6"/></filter>
<g filter="url(#blB)">
<rect x="264" y="-2" width="186" height="168.5" fill="rgb(4, 10, 250)"/>
<path d="M326.5 4.5l0.5 0.0l-0.5 0.4l0 -0.4zM441.5 4.5l2 0.0l0 6.3l-2.4 -3.3l1 -1.0l-0.6 -2.0zM307.5 10.8l1.6 0.7l-0.4 1.0l-1.2 0.4l-0.7 -0.4l-0.1 -1.0l0.8 -0.7zM402.5 11.3l4 1.3l8 -0.2l5 1.2l2 -0.6l3 0.1l3 -1.4l3 -0.3l4 2.0l4 1.0l2 1.3l2 -1.3l1 0.0l0 67.2l-5 3.1l-2.9 2.8l-4.1 0.6l-2.4 3.4l-3.3 2.0l-0.7 3.0l0.5 2.0l-0.9 2.0l-0.3 3.0l-0.9 1.5l-2 1.6l-3.6 0.9l-0.8 1.0l0.8 1.0l-1.4 2.4l-3 0.0l-4 3.2l-3.3 -1.6l-0.7 -2.0l-0.1 3.0l-4.9 2.4l-1.3 -0.4l-0.7 -1.5l-4 -1.2l-1 0.5l-2 2.8l-1.3 -0.6l-0.7 -1.0l-1 -0.1l-0.6 1.1l0.8 3.0l0.8 1.4l1 0.4l13 2.0l2 -3.5l1 -0.2l2 1.7l2 -0.6l0 -1.4l-1.7 -1.8l0.7 -1.3l4 0.7l2.3 3.6l1.7 -0.1l3 -1.6l1 0.1l1 1.9l1 0.4l5 -0.6l1 0.9l-0.2 3.0l-1.8 1.8l-3.5 1.2l1.5 0.7l3 -0.1l2 1.6l6 0.7l1.5 3.1l0.4 4.0l1.3 2.0l-1.8 3.0l-1.4 0.3l-0.3 -0.3l0.7 -2.0l0.1 -2.0l-2.5 -2.1l-1.2 1.1l0.4 1.0l-0.4 1.0l-2.8 0.8l-0.6 -3.8l-0.9 -1.0l-6.5 -1.0l-3 4.1l-5 -3.6l-1 1.3l-4.1 2.2l-3.9 3.7l-3 0.4l-3 1.8l-1 -2.0l-3 -1.1l-3 1.0l-2 -0.3l-2.2 0.5l-0.8 1.0l0 2.2l-2.8 2.8l0.7 3.0l-0.2 1.0l-0.7 0.3l-4 -0.6l-2 -2.2l-3 0.9l-1 -0.5l-1 -2.1l-2 -0.4l-2 -1.5l-3 1.4l-2.3 -0.3l-1.1 -1.0l-0.6 -2.4l-2 -0.3l-4 -3.2l-1 0.1l-1.4 1.8l0.9 3.0l-0.3 2.0l-1.4 3.0l0.7 2.0l-2.8 1.0l-0.3 -1.0l0.7 -2.0l-1.1 -3.0l1.3 -3.0l-0.3 -1.0l-2 -1.0l-1 1.5l-1 -0.2l-2 -2.6l-1.7 -0.7l-2.3 -2.4l-5 0.2l-2 1.0l-1 -0.2l-3.6 -4.6l2.5 -3.0l-0.8 -2.0l1.5 -1.0l0.4 -1.0l2 -1.1l2 0.5l1 -1.5l2.1 -0.9l0.5 -1.0l-0.9 -1.0l0.3 -4.4l4 -0.4l0.3 -1.2l-1.3 -0.2l-2 0.7l-1.5 -1.5l-0.2 -2.0l2 -2.0l0.1 -1.0l-3.4 -3.8l-2 -0.1l-5.6 -2.1l-2.6 -2.0l-6.9 -17.0l0.5 -4.0l-1.1 -6.0l0.7 -0.9l2 -0.5l0.4 -0.6l-1.4 -3.0l1 -1.5l3 -1.6l3 -3.4l2.3 -1.5l-0.5 -2.0l1.2 -1.5l9 -5.0l3.2 -0.5l1.3 -1.0l-0.7 -2.0l1.2 -1.5l2 -0.5l2 1.2l1.3 -0.2l0.7 -2.0l2.6 -3.0l3.4 -0.9l6 -3.9l4 -4.6l3 0.5l2 -0.5l3.9 -3.6l1.1 -3.3l4.8 -4.7l1.9 -3.0l5.3 -2.2l2.9 -2.8l3.1 -1.7l4 -0.8l2 -1.7zM411.0 108.5l-1.2 1.0l0.2 1.0l2.5 1.3l1.8 -2.3l0.2 -1.0l1.3 0.0l-4.8 0.0zM349.3 113.5l-1.3 3.0l1.3 2.0l-0.5 2.0l0.3 1.0l1.4 0.9l5.8 -5.9l-2.7 -1.0l-1.2 -2.0l-0.9 -0.5l-2.2 0.5zM380.2 115.5l-0.2 3.0l-1.8 2.0l0.4 1.0l0.9 0.3l3 -1.3l1 -1.6l1.3 -0.4l1.2 -2.0l0 -1.0l-1.5 -0.6l-3 1.6l-1.3 -1.0zM363.8 116.5l1.6 3.0l1.5 0.0l0.6 -1.0l-1.5 -2.0l-2.2 0.0zM372.2 116.5l0.7 1.0l4.6 0.6l0.7 -0.6l-0.7 -1.3l-1 -0.3l-3 0.1l-1.3 0.5zM357.2 118.5l-0.2 1.0l0.5 0.3l1 0.3l0.8 -0.6l-2.1 -1.0zM343.1 121.5l-0.8 2.0l1.2 0.6l1 -0.2l0.5 -1.4l-0.4 -1.0l-1.1 -0.4l-0.4 0.4zM372.4 122.5l0.5 0.0l-0.5 0.0zM334.2 133.5l1.3 0.4l0.5 -0.4l-1.5 -0.9l-0.3 0.9zM381.1 142.5l-0.6 3.0l-2.5 1.0l1.5 1.2l3 -1.8l1.1 -1.4l-0.1 -2.0l-1 -0.7l-1.4 0.7zM375.8 145.5l-0.9 1.0l2.2 0.0l0.6 -1.0l-1.2 -0.4l-0.7 0.4zM302.5 13.7l1 0.6l0.4 1.2l-0.4 0.9l-1 0.4l-1.1 -0.3l-0.6 -1.0l1.7 -1.8zM324.5 32.2l0.6 0.3l0.1 1.0l-1.2 0.0l-0.5 -1.0l1 -0.3zM328.5 35.1l0.7 1.4l-0.7 0.4l-0.4 -0.4l0.4 -1.4zM333.5 38.1l0.6 0.4l-0.6 1.1l-0.6 -1.1l0.6 -0.4zM299.5 61.3l0 1.2l-0.9 -1.0l0.9 -0.2zM443.5 89.9l0 3.9l-1 -2.3l1 -1.6zM421.5 108.2l1 -0.2l2.5 1.5l0.5 0.9l-2 2.3l-2.8 -0.2l-0.8 -1.0l0.6 -2.0l1 -1.3zM443.5 110.8l0 16.4l-0.8 -0.7l-0.1 -1.0l0.5 -4.0l-2.9 -4.0l0.3 -1.6l1 -1.2l1.6 -0.2l-0.5 -2.0l0.9 -1.7zM325.5 112.0l1.1 0.5l-1.1 1.1l-0.6 -1.1l0.6 -0.5zM306.5 121.1l0.4 0.4l-0.4 0.8l0 -1.2zM307.5 122.2l0 0.4l-0.8 -0.1l0.8 -0.3zM436.5 122.3l2 1.4l0.5 1.8l-0.5 1.2l-4 1.3l-0.5 -0.5l1.7 -2.0l0.8 -3.2zM316.5 123.4l1 -0.5l0.8 1.6l0 1.0l-0.8 0.5l-1.3 -1.5l0.3 -1.1zM323.5 128.3l1 0.2l0 1.3l-1 0.2l-0.8 -0.5l0.8 -1.2zM440.5 128.3l1 0.1l0.8 1.1l0.2 1.0l-1 0.6l-1.5 -1.6l-0.2 -1.0l0.7 -0.2zM314.5 132.4l2 -0.4l8 0.6l2 -0.8l1.2 1.7l-0.2 1.3l-4 0.2l-4.6 2.5l-0.2 1.0l1.6 2.0l-1.5 2.0l-0.3 2.8l-0.7 -0.8l0.3 -1.0l-1.6 -1.0l-4 1.3l-0.8 -0.3l-1.4 -3.0l0 -2.0l3.2 -1.0l1 -1.0l0 -4.1zM443.5 139.2l0 1.5l-0.9 -0.2l0.9 -1.3zM341.5 141.6l1.2 0.9l-1.2 1.1l-0.9 -1.1l0.9 -0.9zM292.5 143.1l0.5 0.4l-0.5 1.1l-0.4 -1.1l0.4 -0.4zM339.5 145.3l1.1 1.2l-1.1 0.4l-0.6 -0.4l0.6 -1.2zM313.5 146.5l1 -0.7l1 0.1l0.7 0.6l-0.2 1.0l-0.5 0.4l-2 -0.4l0 -1.0zM276.5 148.2l1 0.0l0.3 1.3l-0.3 0.9l-1 0.3l-0.8 -1.2l0.8 -1.3zM359.5 149.5l1 0.0l-0.4 1.0l-0.7 0.0l0.1 -1.0zM416.5 150.0l2 -0.2l2 1.7l0 1.7l-1 0.4l-2 -1.0l-1.6 -2.1l0.6 -0.5zM404.5 152.5l1 -0.3l3 1.8l1 1.5l1.7 1.0l0.1 1.0l-0.9 2.0l-6.1 0.0l0 -1.0l-0.8 -0.8l-2 1.3l-2.5 0.5l0.5 -5.4l1 -1.0l3 0.2l1 -0.8zM355.5 153.4l1 -0.6l2 0.3l0.1 1.4l-2.1 0.2l-1 -1.3zM413.5 153.1l2.7 1.4l-0.6 1.0l-1.7 0.0l-0.6 -1.0l0.2 -1.4zM347.5 156.3l0.8 0.2l0.2 1.0l-1 0.7l-0.5 -1.7l0.5 -0.2zM310.5 157.4l0 0.4l-0.4 -0.3l0.4 -0.1zM339.5 159.1l1.1 0.4l-1.3 0.0l0.2 -0.4z" fill="rgb(0, 100, 255)"/>
<path d="M396.5 17.2l2 0.8l2 -1.1l4 1.0l4 -0.5l3 1.9l1 0.1l1 -1.8l1 0.2l1.4 1.7l-0.1 1.0l-1.6 1.0l0.7 1.0l4.5 2.0l3.1 3.4l2 0.2l7 -2.0l1.8 0.4l-2.1 2.0l0.9 2.0l-2.1 4.0l1.5 1.0l1 0.0l-1.2 4.0l1.8 2.0l0.4 3.0l2.1 2.0l0.2 1.0l-1.1 3.0l0.6 2.0l0.2 0.3l1 -0.3l1 -2.1l1 -0.1l1.6 2.2l3.3 2.0l0.1 9.5l-1.9 1.5l-0.5 3.0l-2.2 2.0l-0.1 1.0l-0.1 2.0l0.8 0.8l2 -0.8l1.1 1.0l-2.6 2.0l-1.5 -0.3l-2 -1.6l-1 0.7l-0.7 3.2l0.1 2.0l-2.4 1.2l-1.8 3.8l-2.2 0.0l-1 0.8l-1 2.3l-5.7 2.9l-3.3 4.6l-3 1.4l-1 2.2l-3 1.4l-1.2 3.4l-1.5 1.0l-1.3 2.0l-0.4 -2.0l-1.6 -0.2l-0.3 2.2l-3.7 1.5l-7.3 -0.5l-2.7 -0.9l-3 0.9l-3 3.9l-1 0.4l-1 -0.1l-2 -1.8l-1 0.0l-5 1.4l-4 -0.3l-1.8 2.5l-1.2 0.3l-2.9 -2.3l-3.1 -0.5l-2 1.8l-10 -5.0l-2 0.1l-2 -0.9l-3 -0.2l-1 -0.6l-2 -3.4l-4 -2.4l-4 -0.8l-1.8 -2.1l-2.7 -6.0l-0.7 -6.0l2.1 -7.0l-1.2 -3.0l1.2 -2.0l-1.6 -2.0l0.2 -1.0l1.7 -1.0l2.8 -0.6l1 -0.9l-0.2 -2.5l2.6 -3.0l0.7 -3.0l2.5 -2.0l5.4 -2.0l5 -4.1l4 -1.5l4 -4.1l13 -8.6l5 -1.6l4.7 -4.1l4.3 -5.3l2 -3.4l1 -0.6l5.3 -0.7l2.7 -3.9l2 -1.4zM430.1 29.5l1.2 0.0l-0.8 -0.4l-0.4 0.4zM426.5 16.7l1.3 1.8l-0.3 0.9l-1.6 -0.9l-0.1 -1.0l0.7 -0.8zM419.5 21.4l0.7 0.1l-0.7 -0.1zM431.5 21.0l1 -0.2l1.1 0.7l-0.8 1.0l-1.3 0.3l-0.5 -0.3l0.5 -1.5zM436.5 21.4l2 0.1l-1 2.4l-1 -0.1l-1.2 -1.3l1.2 -1.1zM424.5 23.5l0.7 0.0l-0.7 0.0zM437.5 26.0l1 -0.1l0.5 0.6l-1.5 1.2l-1.2 -0.2l1.2 -1.5zM443.5 27.5l0 7.7l-2 1.6l-4 0.4l-2 -3.7l2.6 -1.0l0.4 -2.0l1 -1.4l4 -1.6zM439.5 45.6l1.1 0.9l-1.1 1.1l-0.6 -1.1l0.6 -0.9zM437.5 80.3l1 -0.6l0.5 0.8l-1.5 0.7l0 -0.9zM363.5 123.1l1 0.0l2 1.1l3 -0.2l2 1.6l3 -0.6l3 0.4l2 -0.6l8 0.5l7 -0.7l6 0.6l2 2.0l4.2 1.3l0.4 3.0l-0.8 5.0l-0.8 1.4l-5 0.4l-2.9 1.2l-2.1 -1.0l-8 1.4l-6 -0.8l-6 1.3l-2 -0.3l-5 0.7l-12 -3.1l-5 1.8l-1 -1.0l-4.3 -1.0l-4.7 -3.0l-0.6 -1.0l0.6 -2.3l1 -0.8l0.9 0.1l-0.8 2.0l0.9 1.0l0.6 -1.0l-0.2 -1.0l1.8 -3.0l1.8 -1.1l3.4 -0.9l3.6 -2.1l2 1.2l1 0.0l1 -1.3l3 -0.1l2 -1.1z" fill="rgb(0, 158, 255)"/>
<path d="M402.5 21.4l2 -0.7l3 2.0l3 -0.4l4.2 3.2l1.8 2.5l2 0.2l3 3.8l2 1.3l1 2.2l2.6 1.0l-1.5 2.0l-0.1 2.0l2.2 7.0l0.8 1.0l2 0.3l0.6 0.7l-2.2 3.0l2.7 5.0l-0.6 2.0l0.3 1.0l4.8 1.0l-1.6 2.0l-0.4 1.0l0.9 2.0l-1.5 2.3l-4 -2.5l-1 1.0l-0.4 2.2l1.3 3.0l-1.3 1.0l-1.9 4.0l-0.2 1.0l0.9 2.0l-1.4 3.8l-1 0.8l-2 -0.2l-2 3.2l-3 1.6l-2 2.3l-2.2 0.5l-2.8 2.2l-3 -0.1l-2.5 0.9l-3.5 4.1l-4 0.7l-4 1.6l-1 -0.1l-2 -1.5l-2 0.1l-2.2 -0.9l-1.2 2.0l1 3.0l-1.6 3.5l-1 -0.1l-2 -2.1l-4 -0.4l-5 2.1l-4.3 0.0l-2.7 1.6l-2 0.3l-10 -3.0l-2 -1.4l-3 0.4l-3 -2.2l-4 -0.6l-7 -5.3l-2.1 0.2l-0.7 -1.0l1.1 -5.0l-1.6 -4.0l0.4 -2.0l-0.9 -2.0l1.2 -5.0l-1 -4.0l0.6 -1.5l3.3 -3.5l1.1 -3.0l3.5 -5.0l2.1 -2.1l8.2 -5.9l4.8 -2.0l6 -5.4l7 -3.8l2 -1.9l5 -2.1l5.4 -4.8l6.6 -6.9l3 -0.6l4 -1.7l2 -1.6l7 -1.3zM437.5 59.5l0 1.0l0 -1.0zM436.5 64.4l1 -0.8l0.6 0.9l-0.6 1.7l-1 0.7l-0.4 -0.4l0.4 -2.1zM397.5 101.9l1 -0.1l1 1.2l-0.4 1.5l-1.5 0.0l-1.2 -1.0l1.1 -1.6zM368.5 126.2l3 1.1l4 0.4l4 -1.1l8 1.3l9 -0.6l4.1 2.2l1.1 3.0l0 2.0l-0.4 1.0l-1.8 0.9l-3 -0.2l-7 1.6l-7 -0.7l-3 0.2l-2 0.8l-4 -0.4l-6 0.8l-4 -1.5l-11 -1.7l-1.5 -0.8l-1.1 -2.0l-0.2 -2.0l2.8 -2.2l5 1.5l3 -2.1l5 -0.3l3 -1.2z" fill="rgb(0, 198, 254)"/>
<path d="M400.5 25.3l2 -0.6l6 1.5l3 0.0l3 5.1l2 1.9l1.3 2.3l2.7 0.9l0.6 1.1l-1.4 2.0l0.1 1.0l1.7 1.5l0.7 3.5l-3.7 4.0l0.6 1.0l-0.2 3.0l1 1.0l2.6 0.7l-0.2 3.3l1.5 3.0l-0.3 1.9l-1 1.1l0.8 3.0l-1.8 1.3l-1 4.7l2 1.1l0.4 0.9l-0.4 1.2l-2 0.8l0.9 3.0l-1.9 0.9l-2.5 0.1l-1.5 1.9l-2 1.2l-0.7 0.9l0.4 3.0l-2.7 2.2l-5 1.8l-4 2.3l-2 -0.2l-3 1.1l-2.1 1.8l-2.4 0.0l-3.5 -1.4l-2.5 0.4l-2.5 1.8l-3 1.0l-2 1.6l-2.1 0.6l-3.9 2.3l-3 -0.2l-2 1.0l-4 0.0l-2 0.8l-6 -1.3l-3 -1.8l-4 0.6l-2 -1.2l-4 -1.2l-6.4 -5.0l-0.8 -1.0l-0.5 -2.0l0.3 -4.0l-0.6 -6.0l0.5 -5.0l-1 -3.0l3 -6.0l1.9 -2.0l1.6 -3.7l10 -8.2l4.9 -2.1l5.1 -4.6l5.6 -2.4l3.4 -2.9l6 -3.3l11 -10.4l6 -1.9l4 0.9l1 -1.9l3 -0.7zM421.5 50.3l1 -0.3l0.4 0.5l-0.4 0.7l-1.5 -0.7l0.5 -0.2zM368.5 128.4l5 1.0l6 0.0l2 -0.7l3 1.3l9 -0.6l1.5 1.1l0.1 1.0l-1.9 3.0l-3.7 1.7l-7 -1.2l-3 0.4l-2 1.0l-4 -0.7l-3 0.4l-2 -0.5l-2 0.5l-6.5 -2.6l-0.5 -1.0l0.9 -1.0l1.1 0.3l7 -3.4z" fill="rgb(0, 222, 246)"/>
<path d="M387.5 31.5l6 -0.8l6 0.6l9 -0.7l2.2 0.9l0.9 1.0l0.9 2.4l2 0.9l0.9 2.7l-0.5 1.0l-1.5 1.0l-0.3 1.0l2.6 4.0l-0.4 7.0l0.4 4.0l-0.3 3.0l-1.2 2.0l0.4 2.0l-0.7 3.0l0.4 1.0l1.2 0.5l2.1 2.5l-1.2 2.0l-0.8 5.0l-1.3 1.0l-2 4.0l-2.5 2.0l-2.3 4.4l-4 2.6l-4 0.5l-2 1.4l-3 1.0l-4 0.0l-4.7 1.1l-11.3 5.1l-7 1.6l-6 0.4l-12 -3.2l-5 -0.1l-4 -3.1l-1.7 -2.7l0.8 -6.0l-3.7 -13.0l2.1 -5.0l4 -6.0l7.5 -7.5l3 -2.2l3 -1.1l5 -3.7l5.3 -2.5l4.7 -3.4l5 -2.1l3 -3.1l4 -2.3l2 -2.3l3 -1.8zM375.5 131.5l2.4 0.0l0.9 1.0l-1.3 0.6l-1 -0.3l-1 -1.3zM368.5 132.2l3 -0.3l0.4 0.6l-1 1.0l-1.4 0.1l-1 -0.6l0 -0.8zM387.5 132.1l1 0.4l-1 0.5l-0.7 -0.5l0.7 -0.4z" fill="rgb(0, 230, 225)"/>
<path d="M397.5 33.3l1.1 0.2l1.9 2.1l3 1.4l2 1.6l4 -0.1l0.8 1.0l-0.1 1.0l-3.1 3.0l4.2 6.0l0 2.0l1 3.0l-0.9 7.0l0.5 3.0l-0.4 1.2l-2.2 0.8l-0.8 1.5l-0.1 2.5l2.1 1.7l0 2.3l-0.9 3.0l-1.7 1.0l-0.4 0.9l1.1 2.1l-1.7 2.0l-0.5 2.0l-3.9 3.5l-3 0.9l-3 2.3l-8 1.6l-14 5.4l-7 1.7l-6 0.1l-6 -2.1l-3 -0.4l-3 -1.5l-5 -0.6l-3 -1.6l-1.1 -1.3l0.4 -4.0l-3.7 -15.0l1.8 -5.0l7.3 -10.0l6.3 -5.4l3 -1.1l6 -4.1l9 -4.9l6 -2.0l3 -3.0l6 -1.7l4 -2.9l2 1.0l2 -1.3l2 0.7l2 -1.5z" fill="rgb(0, 235, 198)"/>
<path d="M380.5 40.4l2 0.5l4 -0.7l5 1.5l4 -1.2l1.6 0.0l1.2 1.0l1.2 3.0l1 0.9l4.7 2.1l-0.3 6.0l1.6 3.0l-2.1 5.0l0.6 2.0l-0.4 2.0l0.8 3.0l0.4 6.0l-0.3 1.3l-2.6 3.7l-0.5 4.0l-5.9 6.4l-2 0.2l-8 3.6l-10 2.9l-2 1.2l-9 2.0l-3.5 -0.3l-4.5 -1.6l-2 -1.4l-3 0.1l-5 -2.3l-3 -0.6l-1.2 -1.2l-3.8 -10.0l-1 -7.0l1 -5.4l3.3 -5.6l3.7 -4.7l6 -5.5l3 -1.1l6 -4.0l9 -4.2l3 -1.0l4 -0.5l2 -2.6l1 -0.5z" fill="rgb(0, 235, 127)"/>
<path d="M385.5 43.3l3 1.8l2 0.3l2 2.2l1 0.4l1 -0.7l0.7 0.2l1.1 1.0l5.3 2.0l-0.5 1.0l-1.6 0.9l-0.4 1.1l3.2 6.0l-0.4 10.0l-0.9 4.0l0.2 3.0l-5.3 10.0l-9.4 6.2l-3 0.4l-3 1.5l-15 3.5l-5 -0.8l-3 -2.0l-7 -2.1l-5 -1.8l-1 -0.8l-2.6 -4.1l-1.6 -4.0l-0.7 -8.0l0.5 -3.0l1.3 -3.0l2 -4.0l3.1 -4.0l6.8 -6.0l6.2 -3.2l4 -2.8l9 -3.0l5 -0.2l8 -2.0z" fill="rgb(12, 235, 28)"/>
<path d="M378.5 46.5l7 -0.6l5 1.9l6 4.6l3.3 5.1l1.2 6.0l-0.5 6.0l-1 5.0l-1.2 2.0l-1.9 6.0l-1.3 2.0l-4.6 3.7l-5 3.2l-3 0.5l-4 1.9l-3 0.2l-9 2.1l-5 0.0l-3 -1.9l-8 -2.4l-5 -2.2l-2.5 -3.1l-2.4 -7.0l0.4 -7.0l2.9 -7.0l3.6 -4.3l8 -6.2l2 -1.1l3 -0.6l1.5 -2.8l1.4 -1.0l7.1 -2.2l8 -0.8z" fill="rgb(38, 235, 2)"/>
<path d="M371.5 48.4l2 0.2l7 -1.0l4 0.2l5 1.1l5.1 3.6l2.4 3.0l1.6 3.0l0.8 4.0l0.1 6.0l-1.3 5.0l-3.7 9.0l-7.5 6.0l-3.5 1.6l-6 2.2l-12 2.3l-3.5 -0.1l-3.5 -1.7l-8 -2.0l-4 -1.7l-2.9 -3.6l-2.1 -7.0l0.9 -7.0l2.9 -6.0l3.2 -3.5l9.7 -6.5l3 -1.0l2.6 -3.0l7.7 -3.1z" fill="rgb(59, 232, 0)"/>
<path d="M376.5 49.5l4 -0.5l9 1.5l5 3.8l1.7 2.2l1.9 7.0l0 5.0l-1.7 5.0l-3.3 7.0l-8.6 7.4l-7 2.7l-14 2.4l-13 -3.1l-4 -2.3l-2.3 -3.1l-1.8 -6.0l0 -2.0l1.2 -5.0l2 -4.0l2.9 -3.8l3 -2.3l9 -4.9l4.7 -4.0l2.3 -1.3l4 -1.7l5 0.0z" fill="rgb(101, 233, 0)"/>
<path d="M379.5 50.4l4 0.4l6 1.7l5 3.7l1.7 3.3l0.8 5.0l-0.9 6.0l-4.6 8.6l-2.9 2.4l-1.1 2.0l-3.6 3.0l-3.4 0.8l-3 1.8l-6 0.4l-8 2.0l-13 -2.7l-4 -2.7l-1.7 -2.6l-1.3 -7.0l1 -4.0l2.1 -4.0l2.9 -3.7l5 -3.9l6.7 -3.4l6.3 -4.7l4 -1.4l8 -1.0z" fill="rgb(164, 239, 0)"/>
<path d="M374.5 52.4l6 -0.5l3 0.4l5 2.9l3.1 0.3l2.9 2.8l1 4.2l-1.2 3.0l0.2 3.1l-1 3.9l-3 5.2l-2.4 1.8l-2.4 3.0l-1.9 1.0l-1.3 1.9l-2 0.3l-3 1.7l-14 2.9l-12 -2.3l-4 -2.4l-1.6 -2.1l-1.2 -7.0l1.2 -4.0l3.5 -6.0l5.5 -5.0l6.6 -3.1l7 -4.3l3 -0.4l3 -1.3z" fill="rgb(234, 232, 0)"/>
<path d="M373.5 54.4l3 -0.4l5 1.3l3 0.1l5 4.0l0.9 2.1l-0.2 2.0l1.6 3.0l-0.7 2.0l0 3.0l-2.4 5.0l-4.2 5.0l-2 0.8l-1 1.3l-4 2.4l-3 1.2l-11 2.1l-8 -1.3l-5.3 -1.5l-3 -3.0l-1.7 -6.0l0.7 -4.0l2.5 -5.0l2.8 -3.3l4 -3.3l13.9 -6.4l2.1 -0.2l2 -0.9z" fill="rgb(255, 207, 0)"/>
<path d="M370.5 57.4l2 -0.5l3 0.0l2 0.8l4 -0.4l3.4 3.2l2.3 3.0l-0.3 3.0l2.4 5.0l-4.6 8.0l-8.4 6.0l-8.8 2.4l-4 0.3l-8 -1.2l-5 -1.4l-2.7 -3.1l-1.3 -5.0l0.5 -4.0l2.5 -5.0l3 -3.4l4 -3.0l10 -3.8l4 -0.9z" fill="rgb(255, 165, 0)"/>
<path d="M370.5 59.3l4 -0.3l7 1.8l1 2.9l4.5 7.8l-3.9 7.0l-7.6 6.3l-8 2.3l-12 -1.0l-3 -0.7l-2 -1.0l-2 -2.4l-1.3 -5.5l0.4 -3.0l2.9 -5.3l2 -2.2l4.7 -3.5l9.3 -2.7l4 -0.5z" fill="rgb(255, 108, 0)"/>
<path d="M366.5 61.4l6 -0.5l1.6 0.6l0.6 1.0l1.8 0.3l3 1.6l1 2.6l3 2.8l0.8 1.7l-0.3 2.0l-1.5 2.7l-2.5 3.3l-1.7 1.0l-2.8 3.0l-6 2.4l-3 0.4l-14.1 -1.8l-2.9 -2.4l-1.1 -3.6l-0.1 -5.0l2.2 -4.3l6.3 -5.7l5.7 -1.7l2 0.4l2 -0.8z" fill="rgb(255, 0, 0)"/>
<path d="M360.5 64.2l2 -0.6l3 0.6l2 -0.4l5 0.1l3 1.6l2.9 3.0l2.3 4.0l-6.1 9.0l-2.1 0.6l-2 1.8l-2 0.5l-2 -1.9l-4 0.8l-4 -1.2l-3 0.8l-2 -0.5l-2.1 -2.9l0.1 -4.0l3 -3.0l0.2 -2.0l1 -2.0l2.4 -3.0l2.4 -1.3z" fill="rgb(255, 0, 0)"/>
</g>
<path d="M443.5 32.9l-1 0.8l-0.4 -0.2l-0.1 -1.0l1.5 -0.3M443.5 47.0l-3 0.1l-1 0.7l-2.6 -1.3l-0.7 -1.0l2.9 -3.0l0.4 -1.1l1 2.6l3 1.3M443.5 64.9l-1.3 -2.4l-1.2 0.0l-2 2.0l0.9 2.0l-2.3 2.0l-0.5 3.0l-2.6 1.4l-1.3 -0.4l-1.7 -3.0l1 -2.5l2 2.6l1 0.3l0.4 -0.4l0.6 -6.2l-1 -0.5l-4 2.3l-2 0.0l-1.3 1.4l-1.4 4.0l1 2.0l0.1 5.0l-0.7 2.0l1.3 2.2l1 0.5l0 0.7l-3.3 2.6l-0.7 1.3l-1 -0.6l-1 0.2l-4 2.9l-7 2.4l-1.6 3.8l-0.4 5.3l-1 0.6l-2 -2.4l-1.6 -0.5l-0.4 -0.7l-1.6 0.7l0.6 0.9l-0.1 1.1l-3.3 3.0l0.1 1.0l1.1 1.0l0 1.0l-1.8 1.3l-1.6 -0.3l-0.4 -1.4l-1.2 1.4l-1.3 0.0l-0.1 -1.0l-3.3 -2.0l0.1 -2.0l-1.2 -0.5l-3 0.3l-1 -1.1l-1.2 0.3l0.5 1.0l1.7 1.2l2 0.7l-1 1.3l-2 -0.7l-2 0.5l-1 -0.3l-0.8 -0.7l-0.2 -1.2l-0.2 1.2l-1.2 1.0l0.2 1.0l1.2 0.5l2 -1.5l0.3 2.0l-0.6 2.0l-2.2 1.0l0 1.0l1.3 1.0l-0.8 2.1l-2.6 -3.1l0.4 -4.0l-0.8 -2.2l-1 0.1l-5 2.7l-4 0.1l-2 -2.0l-1 0.3l-1 -0.7l-1 -1.5l-1.8 2.2l2.1 1.0l0.7 2.2l-1 1.0l-1 0.0l-2 -1.8l-1 0.2l-0.9 0.4l-1.1 3.4l-2 -4.0l-0.6 0.6l-1.4 0.1l-2 -1.6l-2 0.6l-4 -1.5l-0.4 -0.6l0.3 -1.0l2.1 -0.5l0 -1.6l-5 0.3l-1 -0.4l-2 -2.3l-1 -0.2l-2 2.7l-1 0.2l-0.5 -1.2l0.5 -2.0l-1 -1.4l-2 -0.6l-3 1.9l-3.2 -2.9l-0.7 -4.0l0.9 -0.6l1 0.2l0.4 -0.6l-0.4 -1.8l-1 -1.2l1.3 -3.0l-1 -4.0l0 -6.0l-1.1 -1.0l1.9 -1.0l0.4 -1.0l-0.5 -1.2l1 -0.8l2 0.4l0.7 -1.4l1.4 -1.0l0.7 -4.0l1.6 -2.0l-0.9 -2.0l0.5 -1.4l2.1 -0.6l2.6 -2.0l0.3 -0.8l1 0.9l2 -0.5l4.2 -3.6l6.8 -4.0l4 -3.3l1 -0.4l2 0.4l1 -1.0l0.6 -1.7l2.8 -1.0l1.6 -3.0l1 -0.1l1 1.5l1 -0.1l1 -1.8l3 -1.2l4.4 -5.3l0.4 -1.0l-0.4 -2.0l1.6 -2.4l1 -0.9l0.7 1.3l1.3 0.1l1 -2.2l2 -1.6l6 0.5l2 -1.5l5 -0.9l2 -1.2l2 0.1l2 -1.3l1.5 1.0l-2.2 1.0l1.7 1.0l1 -1.0l3 -0.3l0.6 3.3l3.4 0.5l3.7 2.5l0 2.0l2.3 3.0l3 -1.2l1 0.7l0.8 3.5l-0.5 1.0l-1.4 0.0l-0.5 1.0l2.6 3.4l2 0.4l1 4.6l1.6 -0.4l0.4 -0.8l1 -0.3l1.1 1.1l0.1 3.0l-2 1.0l-0.6 1.0l0.1 1.0l2.3 1.1l0.3 0.9l-1 3.0l0.4 2.0l-1.6 2.0l2.9 1.8l2 -1.9l7 -2.1M414.5 14.3l1 -0.1l2 1.0l0.3 1.3l-1.3 0.4l-2 -0.9l-0.4 -0.5l0.4 -1.2M431.5 15.3l0 0.5l-0.5 -0.3l0.5 -0.2M433.5 20.1l0 0.6l-0.4 -0.2l0.4 -0.4M415.5 23.2l0.6 0.3l-0.6 0.6l0 -0.9M426.5 28.5l1 -0.6l0.6 0.6l-0.6 0.8l-1 -0.8M427.5 36.5l1 0.1l0.4 0.9l-0.4 0.6l-1.9 -0.6l0.9 -1.0M431.5 37.5l0 1.1l0 -1.1M428.5 46.2l-0.4 1.3l0.4 0.3l0.5 -1.3l-0.5 -0.3M425.5 53.2l-1 0.7l0 1.2l1 0.9l1 -0.1l-0.3 -2.4l-0.7 -0.3M425.5 63.2l-0.9 0.3l0.9 2.2l0.5 -1.2l-0.5 -1.3M430.5 73.0l1.1 0.5l-1.1 0.4l-0.6 -0.4l0.6 -0.5M441.5 73.4l1.8 0.1l-0.8 2.5l-1 0.5l-2.9 -1.0l-0.1 -1.0l1 -0.7l1 1.0l0.7 -0.3l0.3 -1.1M400.5 101.1l-0.6 0.4l0.6 0.6l0.9 -0.6l-0.9 -0.4M408.5 102.0l0 1.5l-1 1.1l-0.4 -0.1l1.4 -2.5M370.5 104.2l-0.5 0.3l0.5 0.4l0 -0.7M369.5 105.0l0 0.9l0.4 -0.4l-0.4 -0.5M406.5 105.1l0 0.6l-0.4 -0.2l0.4 -0.4M403.5 106.2l1.2 0.3l-0.2 1.7l-1 -0.5l-0.6 -1.2l0.6 -0.3M364.5 123.4l1 -0.1l1.7 1.2l-2.7 0.7l-1 -0.5l1 -1.3M379.5 124.5l2 1.5l2 0.0l2 0.8l1.2 -0.3l0.8 -1.2l2 1.3l4 -1.2l4 2.6l5 1.1l0.5 1.4l-2.5 1.0l-0.5 1.0l0.5 0.8l2.3 0.2l-0.8 3.0l-3.5 1.3l-1 -1.1l-1 0.2l-3.3 1.6l-0.3 1.0l-1.4 0.9l-1 0.1l-0.4 -2.0l-1.6 -0.9l-3 1.2l-4 -1.1l-5 1.2l-4 -0.7l-2 1.5l-2 -1.1l-6 -0.4l-5 -1.5l-3 -1.5l-2 1.6l-2 -1.9l-2 1.3l-1 -0.5l-0.4 -1.2l1 -2.0l-0.1 -1.0l-1.6 -1.0l-0.3 -1.0l0.7 -1.0l2.7 -0.9l3 -0.5l5 0.8l3 -1.6l6 1.1l2 -2.1l3 1.6l1 -0.1l3 -1.1l3 0.0l1 -1.2M403.5 131.3l0 0.4l0 -0.4M404.5 134.0l1 0.1l1 1.4l-1 1.6l-1.4 -0.6l-0.5 -1.0l0.9 -1.5" fill="none" stroke="#2a3a50" stroke-opacity="0.75" stroke-width="0.6"/>
<path d="M403.5 23.4l2 1.3l7 1.8l0.5 1.0l-0.2 2.0l0.7 1.0l1 1.0l3.6 1.0l-1.5 3.0l-1.1 -0.7l0 3.2l3 3.0l1 0.5l2 -0.7l1 0.7l-0.5 2.0l0.8 3.0l-1.3 0.5l-2 -0.8l-1.1 3.3l2.5 1.0l-2.4 0.7l-0.3 1.3l1.3 2.5l2 0.0l0.6 0.5l-0.1 1.0l-2.6 1.0l1.3 1.0l-0.1 2.0l1.8 1.0l0.3 1.0l-1.2 0.7l-2 -0.7l0.9 -2.0l-0.9 -0.9l-1.8 0.9l-0.5 1.0l1.6 2.0l0 1.0l-0.3 1.0l-1.4 1.0l-0.3 1.0l0.9 1.0l2.2 1.0l-0.2 3.0l0.5 1.0l2.3 -0.4l0.5 0.4l0.3 2.0l-1.8 2.9l-1 -0.1l-0.4 -1.8l-0.6 -0.4l-1.3 0.4l-0.6 2.0l0.9 2.0l-2 1.7l-0.7 1.3l-0.1 2.0l-2.4 3.0l-2.8 0.1l-2 2.5l-3 -0.5l-0.4 0.9l0.8 1.0l-2.4 2.3l-1 0.1l-2 -1.4l-2 1.6l-5 0.1l0 0.9l1 0.4l3 0.1l0.4 0.9l-1.4 1.4l-4 -0.9l-3 1.2l-0.8 -0.7l-0.4 -2.0l-1.8 -0.6l-1.3 0.6l-1.7 2.0l-4 0.7l-6 2.8l-4 0.3l-1 1.5l-1 0.1l-1 -1.3l-1 -0.1l-2 1.0l-3 0.3l-2 -0.6l-3 1.1l-1 -0.4l-1 -2.0l-2 -0.2l-2 -1.2l-1 -0.1l-2 1.4l-2 -0.2l-2 -2.7l-7.5 -4.4l-0.3 -1.0l0.8 -1.9l2 -0.1l1 -0.7l0.2 -1.3l-1.6 -2.0l0.4 -2.4l-1.5 -1.6l0.5 -1.7l1 -0.2l0.1 -1.1l-3.9 -5.0l0.2 -1.0l2.4 -3.0l0.2 -3.2l2 -0.4l1 -0.8l4 -7.0l5 -3.2l3 -3.4l4 -1.1l4 -4.1l4.2 -0.8l2.8 -2.3l2 -2.9l3 0.2l1 -0.7l1 -1.7l2.4 -0.6l4.6 -4.8l1 -0.3l3 -4.6l2 -0.1l3 -1.8l5.3 0.6l2.1 -1.0l0.6 -1.8l2 1.2l1 -0.4l1 -1.9l2 -1.2M400.5 26.6l0 1.8l1 -0.1l0.1 -0.8l-1.1 -0.9M420.5 36.1l1.3 0.4l0.4 1.0l-0.6 1.0l-1.1 -0.1l-0.7 -0.9l0 -1.0l0.7 -0.4M415.5 41.8l0 1.7l0 -1.7M425.5 45.2l1.1 0.3l-1.1 0.6l-0.4 -0.6l0.4 -0.3M421.5 79.1l-0.4 0.4l0.4 -0.4M335.5 88.7l0.4 0.8l-0.4 1.2l0 -2.0M375.5 128.0l2 -0.1l1 2.0l1 0.5l2 -0.3l2 0.8l5 -2.3l2 1.3l2 -0.4l0.8 2.0l-0.6 3.0l2.2 1.0l-3.4 0.1l-2 -0.9l-3 -0.2l-7 1.6l-1.6 1.4l-1.4 0.1l-3 -1.7l-3.1 0.6l-1.9 -1.6l-2 1.2l-1 0.0l-3 -2.7l-2 1.6l-1 -1.5l0 -1.6l2 0.1l0.3 -0.5l-0.3 -1.6l-0.8 -0.4l1.8 -0.4l2 0.7l2 -0.9l3 -0.4l3 0.9l3 -1.4M395.5 130.5l1 -0.4l1.2 2.4l-0.2 0.9l-1.2 0.1l-1.2 -2.0l0.4 -1.0" fill="none" stroke="#2a3a50" stroke-opacity="0.75" stroke-width="0.6"/>
<path d="M397.5 33.2l1 -0.1l1.2 1.4l-0.2 1.3l-1 0.8l-2.2 -1.1l0 -1.0l1.2 -1.3M409.5 33.4l0.5 1.1l-0.5 0.5l-1 -0.3l1 -1.3M383.5 37.4l2 1.1l4 -1.6l3 -0.4l0.9 1.0l-1.5 2.0l3.6 1.3l2 -2.1l1 0.2l2 2.4l2.2 -0.8l0.5 2.0l1.3 1.0l1 -2.0l2.9 -2.0l-1.4 -2.0l0.5 -0.7l2.6 1.7l-0.9 3.0l0.3 5.5l2 0.3l1 -0.8l1 0.2l1.1 1.8l-2.1 1.8l-2 0.0l-1 1.2l2.3 2.0l0.1 1.0l-1.4 1.0l-0.3 3.0l1.5 6.0l-0.5 1.0l-1.7 1.2l-1.2 -0.2l1.1 3.0l1.6 0.0l0.2 2.0l-3.7 3.0l-0.3 4.0l0.9 2.0l-0.6 1.0l-2 1.0l0.8 2.0l-2.4 2.0l-0.5 2.0l-2.9 2.4l-3 -0.5l-1.1 1.1l-4.1 2.0l-3.8 0.0l-5 1.5l-3 1.8l-4 0.6l-2 2.0l-2 -0.3l-2.4 1.4l-1.8 0.0l-1.8 -1.1l-3 1.7l-3 -2.3l-2 0.5l-3.5 -0.8l-3.5 -2.0l-4 0.1l-1.9 -1.1l-3.1 -0.4l-1.9 -2.6l0.8 -2.0l-0.9 -3.0l-0.3 -4.0l-3.2 -9.0l1.5 -4.4l5.8 -8.6l8.2 -7.6l3 -0.9l4 -3.1l10 -5.4l6 -1.7l2 -2.0l4 0.0l0.5 -0.3l-0.2 -2.0l1.7 -1.1M399.5 42.1l-0.4 2.4l1.9 0.0l0.5 -1.0l-0.3 -1.0l-0.7 -0.9l-1 0.5M400.5 86.0l0 0.7l0 -0.7" fill="none" stroke="#2a3a50" stroke-opacity="0.75" stroke-width="0.6"/>
<path d="M385.5 42.3l0.7 1.2l-0.7 0.6l-0.5 -0.6l0.5 -1.2M381.5 43.3l0.2 1.2l0.8 0.6l2 0.7l2 -0.3l2 1.3l1 -1.4l2 -0.5l2 3.1l1.3 -0.5l0.6 4.0l2.1 1.6l3.1 4.4l0.9 4.0l2.1 3.0l-2.8 5.0l0.3 5.0l-0.6 1.0l-1.7 1.0l-0.1 3.0l-1.3 1.0l-3.3 7.0l-0.6 0.5l-2 0.0l-2 1.0l-1 1.6l-3 1.7l-2 0.2l-4 2.6l-3 -0.3l-5 2.2l-3 -0.7l-2 1.3l-7 -1.0l-5 -3.4l-4 -1.3l-2 0.5l-3 -1.7l-3.2 -4.2l-0.8 -4.5l-2.4 -6.5l1.2 -2.0l0 -2.0l0.9 -3.0l4.4 -7.0l2.5 -1.0l3.4 -2.5l0.4 -0.5l-0.1 -2.0l0.7 -1.0l3 -1.1l6 -3.9l11 -4.1l3 0.0l0.8 1.1l1.2 0.0l2.5 -1.0l1 -1.0l-0.2 -1.0l0.7 -0.2" fill="none" stroke="#2a3a50" stroke-opacity="0.75" stroke-width="0.6"/>
<path d="M378.5 48.1l3 0.4l2 -0.5l5 1.6l3 -0.4l1.6 1.3l-0.1 2.0l2.8 2.0l1.7 3.8l2.2 1.2l-0.2 3.0l0.5 2.0l-0.9 1.0l-0.4 5.0l-0.6 1.0l1 2.0l-1.8 1.0l-0.8 3.3l-2.7 4.7l-0.3 2.1l-2 0.9l-2 -0.5l-2 2.1l-2.4 0.4l-2.6 1.8l-1 -0.3l-2 1.7l-1 0.2l-1 -0.6l-2 1.9l-4 0.5l-1 0.8l-3 -0.2l-2 1.1l-4.4 0.1l-2.6 -2.1l-2 -0.1l-2 -1.3l-4.2 -0.5l-3.8 -1.9l-2 -2.0l-1.4 -3.1l-1.5 -7.0l1.1 -3.0l-0.1 -3.0l4.5 -6.0l0.4 -2.0l3.9 -3.0l2.8 -1.0l0.6 -2.0l1.7 -0.1l2 -1.8l2 -0.1l3 -3.4l2 -0.2l2.4 -1.4l3.6 -0.9l2 0.8l2 -0.9l2 0.3l1 -0.7" fill="none" stroke="#2a3a50" stroke-opacity="0.75" stroke-width="0.6"/>
<path d="M375.5 50.3l2 0.7l3 -1.2l3 1.6l7 1.8l4 3.3l2.3 3.0l0.1 6.0l-1.5 8.0l-4.6 7.0l-2.3 1.4l-2.2 3.6l-6.8 2.0l-3 1.1l-1 0.9l-4 -0.3l-3 0.6l-1 0.7l-2 0.1l-3 1.5l-6 -3.1l-6 -1.0l-3.4 -1.5l-3 -4.0l0.6 -3.0l-0.9 -2.0l0.3 -5.0l2.3 -4.0l2.3 -2.0l1.8 -2.8l1 -0.1l1.2 -2.1l5.8 -2.4l3 -2.5l4 -2.1l10 -4.2" fill="none" stroke="#2a3a50" stroke-opacity="0.75" stroke-width="0.6"/>
<path d="M377.5 54.4l2 0.4l3 2.7l5 -0.2l-0.1 2.2l0.6 1.0l1.8 0.0l0.3 1.0l-2.1 3.0l0.5 0.6l2 -0.2l1 -1.8l1 -0.5l0.7 0.9l-0.7 2.6l-2 1.8l-0.3 1.6l1.1 2.0l0 1.0l-2 4.0l-2 1.0l-0.8 2.1l-3 1.5l-2 2.5l-2 0.2l-1 0.6l-1.4 2.1l-2.6 0.2l-1 0.9l-3 -0.2l-5 1.5l-2 1.2l-1 0.1l-4 -1.4l-2 -1.5l-3 -0.1l-4 -1.2l-3.4 -4.5l0.7 -3.0l-1.6 -2.0l3.3 -8.0l2 -1.5l3 -4.4l6 -2.5l3 -1.9l2 -0.5l2 -1.4l2 0.1l3 -1.2l2 -0.1l2 0.5l1 1.0l1 -2.2" fill="none" stroke="#2a3a50" stroke-opacity="0.75" stroke-width="0.6"/>
<path d="M372.5 59.5l6 1.3l2 -0.7l0.5 0.4l0.5 4.0l1.1 2.0l-0.3 2.0l2.2 0.7l1.9 2.3l0.2 1.0l-0.7 1.0l-4.4 2.0l-0.8 1.0l0.4 3.0l-0.3 1.0l-2.3 1.4l-1.4 1.6l-4.6 2.3l-6 1.0l-3 1.4l-2 -2.0l-3 0.1l-7 -1.3l-2.9 -2.5l-0.8 -2.0l0.2 -7.0l1.4 -2.0l0.7 -2.0l4.4 -5.9l3 -1.7l6 -1.6l9 -0.8M383.5 63.3l-0.4 0.2l0.4 -0.2" fill="none" stroke="#2a3a50" stroke-opacity="0.75" stroke-width="0.6"/>
</g>
<defs><clipPath id="clipC"><rect x="479.5" y="4" width="174.0" height="156.5"/></clipPath></defs>
<g clip-path="url(#clipC)" fill-rule="evenodd">
<filter id="blC" x="-5%" y="-5%" width="110%" height="110%"><feGaussianBlur stdDeviation="1.6"/></filter>
<g filter="url(#blC)">
<rect x="473.5" y="-2" width="186.0" height="168.5" fill="rgb(4, 10, 250)"/>
<path d="M526.0 4.5l4.1 0.0l-1.8 1.0l-0.5 2.0l-0.8 0.5l-2 -0.3l-1 -1.2l2 -2.0zM634.0 4.5l1.7 0.0l1 2.0l-0.3 1.0l-0.4 0.2l-2.2 -1.2l-0.5 -1.0l0.2 -1.0l0.5 0.0zM649.0 4.6l4 -0.1l0 4.8l-2 -2.3l-2 0.8l-0.8 -0.3l-0.2 -1.0l1 -1.9zM628.0 10.4l4 0.4l4 2.0l4 3.9l3 1.0l1.5 1.8l7.8 6.0l0.7 1.2l0 64.4l-2 0.6l-5 0.0l-2 1.2l-4 0.5l-5 2.3l-3 0.5l-2 1.9l-2 0.8l-2 2.1l-3 0.2l-5 3.1l-5 0.8l-2 -1.6l-2.7 3.0l-0.3 2.5l-1 2.0l-2 -0.5l-2 0.4l-2 -0.8l-1.4 0.4l-1.3 2.0l-0.8 4.0l0.6 1.0l2.9 1.5l1.5 1.5l0.6 2.0l1.9 -0.1l1.5 -0.9l0.4 -1.0l-0.4 -1.0l-2.5 -0.3l-0.8 -2.7l0.5 -2.0l3.3 -2.7l2 1.0l1 -0.5l2 2.1l2 1.1l-1.7 1.0l-0.2 2.0l0.9 1.6l2 -0.1l0.9 0.5l-0.3 2.0l1.7 2.0l1.7 5.0l3 -0.4l1 1.0l1 0.1l1.1 -0.7l-0.4 -1.0l-0.7 -0.5l-2 0.0l-2 -1.5l1 -1.0l2 1.0l2 -0.4l2 -3.9l2 -2.3l1.4 -0.4l0.6 2.6l1 0.8l3 -0.5l3 0.6l1.7 -4.5l1.3 -1.4l1.9 0.4l2.1 1.8l1.9 -1.8l0.1 -3.3l4 0.1l0.4 0.2l-0.4 1.0l-1.4 2.0l1 2.0l-0.8 3.0l0.5 1.0l2.7 1.7l0 6.1l-1 -1.9l-1 -0.3l-1 0.9l-3 -1.7l-2 1.5l-3.8 0.7l-0.1 1.0l2.2 3.0l-0.1 1.0l-3.2 2.2l-3 0.7l-1.5 -0.9l-0.5 -2.1l-2 -0.5l-2 -2.2l-4 -0.7l-0.8 0.5l-0.7 2.0l1 2.0l-0.1 1.0l-1.1 0.0l-0.7 -2.0l-1.6 -1.0l-4 0.9l-2.6 6.1l-1.4 1.1l-2 -0.9l-2 1.1l-0.7 -0.3l0.4 -2.0l-0.7 -1.0l-6 0.5l-1.1 1.5l-1.9 4.9l-1.6 -0.9l-0.4 -2.7l-1 2.6l-4 0.1l-1 1.6l-1 0.0l-0.5 -2.6l-1.5 -0.7l-1 -0.2l-3 1.3l-4 -1.2l-3 1.0l-2 -1.0l-4 -0.6l-5 0.7l-2 -1.5l-2 2.8l-2 0.7l-1.1 -0.3l-1 -2.0l-2.4 -1.0l-0.5 -1.7l-2 0.6l-3 -2.1l-1 0.0l-5.2 4.2l-0.1 3.0l-2.7 3.2l-3 -2.7l-2.1 -3.5l1.2 -3.0l-1.1 -3.0l-2 0.5l-1 -1.2l-2.7 0.7l-1 -3.0l0.7 -1.0l2.8 1.0l1.2 -0.5l2 0.2l2.2 -1.7l-0.2 -1.2l-1.5 -1.8l0.4 -1.0l-0.4 -1.0l-1.6 -1.0l-0.3 -1.0l1.9 -4.0l-0.5 -1.0l-1 -0.9l-3 -0.2l-2 0.7l-2 -0.7l-6 3.1l-4 -0.6l-0.9 -0.4l-0.3 -1.0l3.2 -1.2l4 -4.8l2 0.0l3 0.6l2 1.8l3 -1.1l3 2.1l2 -1.0l3.1 2.6l-0.6 3.0l0.5 1.3l4 0.4l3 1.4l3 -0.8l3 0.0l1.9 -3.3l-0.6 -3.0l-1 -1.0l-0.2 -1.0l0.9 -1.5l2 -1.0l0.3 -1.5l-1.3 -0.1l-1 1.7l-2.4 0.4l1.1 3.0l-1.7 0.9l-1 -0.3l-2.6 -3.6l1.1 -4.0l-0.3 -1.0l-3.2 -3.4l-3 -0.4l-6 -2.6l-3 -0.2l-5.4 -4.4l-0.7 -2.0l-2.1 -1.0l1.2 -2.8l1.2 -1.2l-1.7 -2.0l-0.1 -1.0l2.4 -7.0l-0.1 -2.0l2.4 -8.0l4.9 -8.4l1.3 -3.6l1.5 -2.0l0 -1.0l1.3 -1.0l2.2 -3.0l0.1 -1.0l1.6 -1.5l3.2 -1.5l3.8 -7.0l5 -1.0l2 -2.0l8 -5.5l4 -0.8l3.8 -1.7l2.2 -3.0l3.4 -2.0l3.3 -5.0l3.6 -2.0l1.7 -2.1l4 -1.0l2 -1.2l4 -0.6l2 -1.7l2 1.9l2 0.5l1.2 -0.8l0.8 -1.8l1 -0.5l4 1.3l2 1.7l1 -2.1l1 -0.6l3 0.6l2 -1.2l5 -0.5zM582.0 116.5l2 0.1l2 1.0l0.5 -1.1l-0.5 -0.4l-4 0.4zM559.5 117.5l-0.5 4.0l1.6 2.0l1.4 0.5l0.3 -1.5l-1.2 -3.0l1.2 -1.0l0.1 -1.0l-2.4 -0.7l-0.5 0.7zM580.4 117.5l0.6 0.6l0.7 -0.6l-0.7 -0.5l-0.6 0.5zM539.9 120.5l-0.4 2.0l0.5 0.6l1 -0.3l0.5 -1.3l-0.5 -1.0l-1.1 0.0zM638.8 123.5l0.2 2.6l3 -0.2l3.1 -1.4l-4.1 -1.4l-2.2 0.4zM557.2 140.5l1 0.0l-1 0.0zM524.0 14.3l1.8 1.2l-0.8 1.5l-1 0.1l-1 -1.5l1 -1.3zM497.0 58.2l0.7 0.3l0.3 1.0l-1 1.5l-0.8 -1.5l0.8 -1.3zM499.0 73.3l0.5 0.2l-0.5 0.8l0 -1.0zM480.9 77.5l0.3 2.0l-1.2 1.7l0 -4.7l0.9 1.0zM519.0 83.9l3 1.6l0 2.1l-1 -0.3l-1.6 -1.8l-0.8 -1.0l0.4 -0.6zM523.0 89.1l1.2 1.4l-1.2 0.6l-0.9 -0.6l0.1 -1.0l0.8 -0.4zM635.0 97.3l1.7 0.2l1.3 2.0l2 0.8l0.8 1.2l-0.8 1.9l-2 0.4l-1.5 1.7l-1.5 0.5l-0.6 -1.5l0.3 -2.0l-0.9 -1.0l-2.8 -0.8l-1 0.9l-0.8 -0.1l1.3 -2.0l4.5 -2.2zM614.0 106.3l3.1 1.2l0.7 1.0l-0.2 1.0l-1.7 0.0l-1.9 -0.8l0 -2.4zM540.0 107.3l0.6 0.2l0.1 2.0l-0.7 2.6l-0.6 0.4l-0.6 0.0l-1.8 -1.9l-2 -0.3l0 -1.4l1 -1.0l2 0.2l2 -0.8zM507.0 108.4l1 1.1l0.2 2.0l-0.7 1.0l-1.5 0.1l-0.4 -1.1l0.4 -2.0l1 -1.1zM626.0 108.3l6 4.2l1.6 -1.0l1.4 -0.1l0.9 1.1l-1.9 0.8l-3 -0.7l-2 1.0l-2 3.4l-1 -0.1l-1.3 -1.4l0.1 -3.0l-0.9 -2.0l0.3 -1.0l1.8 -1.2zM646.0 109.1l0.4 1.4l-0.4 0.6l-0.6 -1.6l0.6 -0.4zM501.0 113.3l1.4 0.2l-0.4 1.0l-1 0.0l-0.4 -1.0l0.4 -0.2zM620.0 113.5l2.6 2.0l-0.6 2.2l-1 0.2l-1 -2.4l0 -2.0zM532.0 113.9l0 0.9l0 -0.9zM548.0 117.0l1 -0.1l0 2.0l-1 -0.2l0 -1.7zM500.0 118.1l0 1.7l-0.6 -1.3l0.6 -0.4zM514.0 118.4l1 0.3l2.8 2.8l-0.7 3.0l-1.1 1.2l-2 -0.8l-2.8 0.6l-1.1 -3.0l0.3 -1.0l1.8 -1.0l1.8 -2.1zM653.0 117.9l0 2.9l-1.5 -1.3l1.5 -1.6zM535.0 128.3l1.3 1.2l-1.3 2.3l-2 1.5l-0.7 -2.8l0.7 -1.3l2 -0.9zM480.4 139.5l1.6 0.9l2 -0.5l0.6 0.6l0.1 1.0l-1.7 0.9l-1.1 2.1l-0.9 0.7l-1 -0.3l0 -5.6l0.4 0.2zM549.0 144.4l1 -0.2l1.7 3.3l0.3 1.0l-1 0.8l-4.4 -1.8l-0.2 -1.0l2.6 -2.1zM609.0 144.3l1.8 1.2l-0.1 1.0l-1.7 1.0l-1 -0.1l-1 -0.9l0.1 -1.0l1.9 -1.2zM558.0 146.5l1.8 0.0l0.5 2.0l-0.3 1.6l-1 -0.1l-2 -2.1l-1 0.1l-0.5 1.5l0.8 3.0l-1.3 1.0l-1 -0.3l-0.5 -3.7l-0.5 -0.9l-0.8 -0.1l1.8 -1.1l3 0.0l1 -0.9zM646.0 145.6l1 0.6l1 2.6l-1 0.3l-1 -0.6l-0.8 -2.0l0.8 -0.9zM627.0 148.5l2 0.7l1 -1.1l1 -0.2l3 1.3l1 -0.8l2.8 2.1l-3.5 2.0l1.2 2.0l-0.5 1.2l-1 0.4l-2.4 -1.6l-0.3 -2.0l-1.3 -1.5l-0.8 0.5l-0.2 3.0l-1 1.2l-1 -0.2l-0.5 -1.0l-0.5 -5.0l1 -1.0zM587.0 149.1l1 0.4l-1 1.5l-0.5 -1.5l0.5 -0.4zM598.0 149.0l1 -0.2l2.2 2.7l-2.2 1.3l-1.7 -0.3l-0.4 -2.0l1.1 -1.5zM549.0 150.5l1 -0.5l1.1 1.5l-1.1 2.0l-1 0.3l-2 -1.2l-0.1 -1.1l1.1 -1.0l1 0.0zM594.0 152.4l1 -0.4l1.4 0.5l-1.4 2.1l-1 0.4l-0.8 -1.5l0.8 -1.1zM653.0 154.3l0 1.9l0 -1.9zM590.0 155.1l1 -0.4l1 0.4l0.4 0.4l-0.4 1.0l-2 0.0l0 -1.4zM513.0 156.4l0.7 1.1l-0.7 0.4l-0.8 -0.4l0.8 -1.1zM599.0 156.5l1.1 1.0l-0.3 1.0l-0.8 0.1l-0.9 -1.1l0.9 -1.0zM633.0 158.3l1 -0.7l1.2 1.9l-2.7 0.0l0.5 -1.2zM490.0 159.4l0.6 0.1l-1 0.0l0.4 -0.1z" fill="rgb(0, 100, 255)"/>
<path d="M625.0 13.3l1.3 0.2l0.1 1.0l-1 3.0l-4.4 1.0l-0.6 -1.0l0.4 -1.0l2.2 -1.2l2 -2.0zM609.0 16.3l3 -0.2l2 1.3l2 0.4l1 1.1l3 -0.1l0.4 0.7l3.6 1.1l2.3 -1.1l2.7 -3.1l1 -0.5l1 0.5l1.5 3.1l-0.1 1.0l-2.2 3.0l0.8 1.1l3 0.2l2 1.5l0 5.5l2 0.8l1 -3.1l3 -2.2l1 -0.3l1.6 0.5l-3.3 6.0l0.9 1.0l-0.1 3.0l0.9 2.6l0.3 -0.6l1.7 -0.6l3 1.1l2 -1.6l1 1.0l1.2 5.1l-1.7 1.0l0 1.0l2.5 1.7l0 1.4l-1 0.9l0 1.0l1 0.3l0 4.2l-3 -0.3l-2 0.8l0 1.1l2.1 1.9l-0.4 2.0l1.7 2.0l0.3 2.0l-0.7 3.8l-2.2 1.2l-0.6 1.0l-0.2 2.0l-1.6 2.0l0 1.0l2.6 3.0l-1 0.8l-2 0.3l-1.7 1.9l-0.2 1.0l0.9 1.3l0.4 2.7l-2.4 -0.7l-1 0.6l-0.6 1.1l0.1 2.0l-0.5 0.3l-2 -0.2l-1 -1.6l-1 -0.4l-1 0.3l-2 1.9l-2.9 -2.3l-1.1 -2.0l-2 0.0l-1 3.0l1.2 2.0l-0.5 1.0l-1.7 0.8l-2 -1.0l-1.2 0.2l0.1 5.0l-0.9 1.2l-3.2 -0.2l0 2.0l-0.8 1.3l-1.9 -0.3l-1.2 -2.0l-4.9 0.6l-3.1 3.4l-8.9 4.9l-5 0.1l-0.8 1.0l1 1.0l0.3 1.0l-0.5 0.3l-5 1.9l-3 -1.1l-3 0.7l-7 -0.3l-4 2.8l-4 -2.1l-1.5 -1.2l-0.9 -2.0l-1.9 -2.0l-2.7 -1.1l-2 -1.7l-2 -0.4l-3 0.9l-3 -2.7l-2 -0.7l-0.8 -1.3l-2.2 -1.5l-3 0.5l-3.7 -2.0l-0.9 -1.0l-1.2 -4.0l0.8 -1.7l2 -0.3l0.7 -1.0l-0.7 -1.2l-3 -0.6l-1 -3.2l2 -1.4l0.2 -1.6l-2.8 -3.0l0 -2.0l1.6 -1.7l0.5 -3.3l2.1 -3.0l2.3 -9.0l1.9 -4.0l1.9 -2.0l1.3 -2.6l3 -2.4l6 -2.4l2 -0.1l2 -2.3l2.5 -1.2l1.5 -2.8l2 -1.0l4 -4.0l10.3 -3.2l9.7 -10.0l3 -1.5l2 -0.2l3 -2.1l2 0.6l3 -0.3l7 -2.7zM642.6 43.5l0.6 0.0l-0.2 -0.7l-0.4 0.7zM572.0 119.4l-0.3 0.1l0.3 -0.1zM570.0 123.2l3 1.3l2 -0.4l3 0.9l6 0.5l9 -2.6l6 1.7l2 2.6l7 -0.7l2 2.5l1 -1.7l1 -0.4l3.1 1.6l-1.1 1.3l-0.3 1.7l1.3 2.8l0.2 2.2l-1.2 0.6l-1 -0.3l-2 -2.1l-3 1.5l-2 -1.1l-3 0.5l-7.6 3.9l0.3 2.0l-0.7 0.6l-1.3 -0.6l-0.7 -1.6l-3 -1.0l-4 1.1l-2.1 -0.5l-6.9 2.1l-7 -1.5l-3 -1.1l-4 0.3l-6 -1.3l-6 -3.0l-3 2.1l-1.8 -1.6l1 -2.0l2.8 -0.9l2 -2.3l2 -0.3l3 -1.9l3 -0.8l1 -0.2l2 0.9l1 -0.3l2 -1.6l3 -1.1l1 -1.8z" fill="rgb(0, 158, 255)"/>
<path d="M609.0 20.5l4 -0.1l3 1.7l3 0.0l2 0.7l6 -0.3l5.9 8.0l1.1 3.7l2.5 2.3l-1.3 2.0l0 1.0l2.7 2.0l-1.9 4.0l1 1.7l4 1.7l0.3 0.6l-1.8 2.0l0.7 4.0l-0.6 4.0l-1.1 2.0l0.5 1.1l4.1 1.9l0.9 2.0l-1.8 6.0l-2.2 2.7l-3.4 2.3l-0.5 1.0l2.9 1.0l0.6 1.0l-0.6 1.6l-4 2.7l-0.5 -0.3l1.1 -1.0l0.3 -1.0l-2.6 -3.0l-4.7 2.0l-4.6 4.7l-8 4.8l-1 1.9l-2.3 1.6l-0.7 1.4l-2 -0.9l-4 0.3l-2.1 2.2l0.1 2.0l-1 1.4l-2 -0.3l-2.1 0.9l-2.6 2.0l-1.5 2.0l-3.8 1.5l-2 2.9l-1 0.4l-2 -1.5l-1 -0.1l-2 0.9l-4 -0.5l-4 0.9l-3 0.0l-6 -2.4l-2 -2.5l-3 -1.9l-4 0.3l-2 -2.1l-3 -0.8l-1.1 -1.1l-7.4 -3.0l-0.6 -2.0l0.5 -5.0l-0.4 -1.1l-1.8 -1.9l1 -3.0l-2.2 -1.9l-0.5 -2.1l0.6 -2.0l0 -6.0l4.1 -14.0l3.8 -3.8l2.2 -1.2l1.8 -2.4l7 -2.2l8 -8.2l7 -4.1l3 -0.6l4 -1.8l3 -3.4l6 -4.3l4 -0.6l5 -2.2l6 -0.5l4 -1.7zM587.0 126.4l2 0.2l2 1.3l7 1.5l1.4 3.1l-1.4 1.2l-1 2.0l-1 0.4l-13 1.6l-5 1.9l-2 -0.2l-8 -2.8l-5 0.7l-2 -0.8l-2 -2.0l-1.9 -1.0l0.2 -1.0l2.7 -2.5l4 -0.3l4 -1.8l4 -0.9l5 0.2l4 -0.4l3 0.7l3 -1.1z" fill="rgb(0, 198, 254)"/>
<path d="M610.0 24.3l3 -0.7l13 2.2l3.3 2.7l1.2 4.0l-0.3 5.0l0.6 3.0l1.8 2.0l-1.2 3.0l0.1 1.0l1.4 4.0l2.1 3.0l-1 0.9l-2 0.2l-0.8 0.9l3.3 2.0l0.4 1.0l0.6 3.0l-0.4 1.0l-2 1.0l2.5 4.0l0.1 1.0l-0.7 1.6l-2.4 2.4l0.4 1.2l1 0.8l1.2 0.0l0.1 1.0l-1.3 0.5l-3 2.9l-4.7 2.6l-2.3 2.5l-10 6.3l-8 3.6l-6 5.5l-5 3.2l-3.4 0.9l-3.6 3.0l-4 -0.5l-3 1.3l-7 0.3l-1 -1.1l-3 -0.8l-5 -2.6l-2 -2.0l-5 0.2l-2 -1.6l-3 -0.8l-4.5 -2.4l-3 -3.0l0.2 -6.0l-3.5 -8.0l0.6 -2.0l-0.7 -5.0l1.2 -7.0l1.1 -3.0l1.8 -4.0l2.4 -3.0l6.4 -5.0l5 -1.9l9 -7.7l5 -2.9l4 -1.3l5 -2.7l2 -2.3l5 -3.6l6 -1.5l5 0.4l2 -0.9l4 -0.4l3 -1.4zM579.0 128.4l2 -0.2l3 1.1l4 -0.1l2.4 1.3l0.6 0.9l-0.3 2.1l-3.7 2.1l-4 0.6l-5 1.6l-5.7 -1.3l-5.3 -2.5l-1.4 -1.5l0.1 -1.0l1.3 -1.1l12 -2.0z" fill="rgb(0, 222, 246)"/>
<path d="M597.0 29.2l6 0.8l3 -1.4l4 0.9l3.1 2.0l1.9 2.3l2 0.7l2 -0.2l2 -1.7l1 -0.2l3.2 1.1l0.8 2.0l-1 3.4l-2.4 1.6l2.4 1.4l2 -1.1l0.3 0.7l0.1 1.0l-1.9 3.0l0.7 3.0l-1.3 3.0l0.4 2.0l1.7 1.6l0.5 1.4l0.2 2.0l-1.5 2.0l0.5 3.0l-0.7 3.0l0.8 3.0l1.4 2.0l-2 5.0l-0.5 3.0l-2.7 2.7l-3 1.6l-3 2.4l-5 2.0l-3 0.2l-2 1.1l-0.3 2.0l-3.5 4.0l-5.1 4.0l-11.1 3.7l-5 0.8l-2 1.0l-2 -0.3l-3 -2.0l-4 0.2l-6 -3.6l-5 0.1l-9.1 -2.9l-2.5 -3.0l-0.2 -4.0l-3.5 -9.0l-1.1 -8.0l1.1 -7.0l4.3 -8.8l5 -4.7l3 -1.4l2 -1.8l1 0.0l2 -2.0l1 -0.1l6 -4.7l15 -6.4l6 -4.4l4 -0.2l3 -1.8zM578.0 130.3l2 -0.6l1 0.3l3.9 2.5l0.3 1.0l-3.2 1.3l-6 -0.3l-1 -0.2l-1.7 -1.8l0.1 -1.0l4.6 -1.2z" fill="rgb(0, 230, 225)"/>
<path d="M609.0 31.4l1 0.3l4 5.8l3 1.2l2 3.1l2.2 1.7l-0.6 3.0l-0.8 1.0l1.2 1.3l0.3 1.7l-1.4 4.0l1.6 2.0l0.6 4.0l1.7 2.0l0.1 1.0l-1.4 3.0l1.7 3.0l-0.7 3.0l0.6 2.0l-1.5 4.0l-4.5 5.0l-2.1 1.7l-9 3.8l-4.2 5.5l-4.8 3.3l-4 0.3l-6 2.8l-4 1.1l-6 0.3l-13 -3.8l-6 -0.6l-8 -2.8l-1.1 -1.6l-2.5 -9.0l-1.6 -4.0l-0.7 -8.0l0.8 -7.0l3.2 -7.0l2.1 -3.0l4.8 -4.4l13 -8.1l17 -6.6l3 -2.2l6 -0.8l3 1.6l3.7 -2.5l4.3 1.0l1 -0.2l2 -1.9z" fill="rgb(0, 235, 198)"/>
<path d="M594.0 36.3l1 -0.3l1 0.4l3 2.3l5 0.0l2 1.4l2 0.2l2 1.1l2 -0.3l1.5 2.4l0.7 2.0l-1.7 2.0l0.5 1.3l1.3 0.7l1.4 4.0l-0.8 3.0l1.6 2.0l0.6 2.0l-1.1 3.6l2 1.1l1 2.2l-0.4 2.1l1.1 4.0l-2.1 6.0l-0.3 3.0l-11.3 6.8l-5 5.3l-4 1.7l-5 0.2l-5 3.2l-9 1.2l-16 -3.6l-10 -3.3l-3.2 -6.5l-2.2 -8.0l-0.4 -6.0l1.1 -8.0l4.3 -9.0l4.4 -5.1l8 -5.2l5 -2.4l8 -2.7l3 -0.5l4 -1.9l8 -0.2l2 -2.2z" fill="rgb(0, 235, 127)"/>
<path d="M594.0 40.4l1.2 1.1l7.8 2.2l3 2.0l5.6 8.8l2.8 8.0l-0.1 2.0l2 9.0l-1.3 2.0l-0.8 4.0l-3.7 5.0l-1.7 2.0l-8.8 7.1l-5 1.4l-4 0.3l-4 1.9l-8 2.1l-12 -1.8l-14 -4.7l-2 -2.2l-1.5 -3.1l-1.9 -9.0l-0.2 -5.0l1.2 -8.0l1.4 -4.0l5.6 -9.0l6.4 -5.0l8 -3.1l14 -3.5l3 0.5l7 -1.0z" fill="rgb(12, 235, 28)"/>
<path d="M583.0 42.5l8 -0.5l8 1.7l4 1.4l3.4 3.4l3.7 6.0l3.1 8.0l0 3.0l1.2 6.0l-3.1 9.0l-2.3 2.2l-2 3.7l-5.6 4.1l-7.4 3.2l-10 2.2l-3 1.3l-5 0.5l-3 -0.2l-10 -2.3l-9 -3.2l-2 -1.5l-1.6 -3.0l-2 -13.0l1.6 -9.6l2.8 -6.4l5.2 -7.0l6 -4.2l13 -3.7l6 -1.1z" fill="rgb(38, 235, 2)"/>
<path d="M586.0 43.3l5 -0.4l10.9 2.6l3.1 2.9l2.3 3.1l1.6 3.0l2.9 8.0l1 8.0l-4.1 10.0l-7.7 8.5l-13 5.2l-5 0.6l-3 1.1l-5 0.5l-4 -0.5l-4 -1.3l-3 -0.2l-10 -3.5l-2 -2.1l-1 -2.3l-1.8 -12.0l1.9 -9.0l2.9 -6.7l5 -6.1l6 -4.6l12 -3.5l9 -1.3z" fill="rgb(59, 232, 0)"/>
<path d="M586.0 44.3l5 -0.5l9 1.9l2 1.2l4.6 5.6l3.9 10.0l0.7 6.0l-0.1 3.0l-2.4 6.0l-2.4 3.0l-3.8 3.0l-1.5 3.0l-5 3.3l-8 3.0l-5 0.8l-3 1.0l-9 0.0l-3.7 -1.1l-2.3 0.0l-7 -2.0l-4 -1.8l-1.7 -2.2l-0.6 -2.0l-1.6 -12.0l1.7 -7.0l3.4 -7.0l4.8 -6.0l6 -4.4l11.7 -3.6l8.3 -1.2z" fill="rgb(101, 233, 0)"/>
<path d="M586.0 45.4l5 -0.7l8 1.6l4.1 3.2l2.9 5.0l3.5 9.0l-0.4 3.0l0.5 5.0l-2.3 5.0l-3.3 3.6l-4.1 2.4l-4.5 6.0l-3.4 1.8l-5 1.3l-8 1.6l-8 0.3l-11 -2.3l-5 -2.0l-1.6 -1.7l-1.3 -4.0l0 -4.0l-1 -6.0l1.3 -6.0l1.8 -4.0l5.9 -8.0l4.9 -3.9l6 -3.0l11 -2.9l4 -0.3z" fill="rgb(164, 239, 0)"/>
<path d="M588.0 46.2l4 -0.2l6 1.4l3.8 3.1l1.2 3.0l2 2.0l2.9 7.0l0.2 7.0l-1 4.0l-3.1 4.5l-6.2 5.5l-3.8 4.3l-7 2.8l-8 1.5l-8 0.6l-11 -2.3l-4.2 -1.9l-1.7 -2.0l-1.2 -3.0l-0.9 -10.0l1.6 -7.0l1.4 -2.6l6 -7.3l4 -3.5l6 -2.7l3 -0.5l8 -3.1l6 -0.6z" fill="rgb(234, 232, 0)"/>
<path d="M589.0 47.4l3 -0.1l5 1.3l7.1 7.9l2.7 7.0l0.2 5.0l-0.6 4.0l-2.4 4.1l-10 10.0l-3.3 1.9l-4.7 1.6l-7 1.2l-9 0.6l-10 -2.2l-4 -2.2l-2.3 -4.0l-0.8 -10.0l1.7 -7.0l1.2 -2.0l5.2 -5.8l6.4 -5.2l3.6 -1.6l3 -0.5l8 -3.4l4 0.2l3 -0.8z" fill="rgb(255, 207, 0)"/>
<path d="M582.0 49.5l4 0.2l5 -1.1l3 0.3l3 1.8l5.1 4.8l1.2 2.0l2.4 7.0l-0.5 8.0l-1.4 3.0l-3.3 4.0l-7.5 6.6l-3 1.8l-4 1.4l-6 1.3l-10 0.6l-9 -1.8l-3 -1.4l-3.1 -3.5l-1.1 -8.0l0 -4.0l2.2 -6.4l4 -4.7l7 -6.4l15 -5.5z" fill="rgb(255, 165, 0)"/>
<path d="M590.0 50.3l3 0.0l4 2.2l4.3 4.0l1.7 3.5l1.7 5.5l-0.6 7.0l-1.1 2.7l-2.5 3.3l-10.5 8.4l-9 2.9l-11 0.7l-9 -1.8l-3 -1.5l-2.6 -3.7l-0.7 -10.0l1.8 -6.0l2.8 -4.0l4.7 -3.7l2.8 -3.3l2.2 -1.2l13 -4.2l6 -0.1l2 -0.7z" fill="rgb(255, 108, 0)"/>
<path d="M583.0 52.5l3 1.0l5 -1.9l2 0.6l4.1 2.3l4.9 5.9l1.7 7.1l-0.7 5.4l-1.8 3.6l-2.6 3.0l-8.6 6.3l-8 3.1l-13 0.7l-1 -0.8l-4.8 -0.3l-4.2 -1.5l-2.3 -2.5l-1 -4.0l0.1 -7.0l2.2 -6.6l3 -3.8l4.4 -2.6l1.6 -2.4l2.1 -1.6l13.9 -4.0z" fill="rgb(255, 0, 0)"/>
<path d="M579.0 56.3l4 -0.1l4 1.7l2 0.0l3 1.2l2 -1.7l1 -0.3l1.4 0.4l1.1 3.0l2.5 1.7l0.2 1.3l-0.3 2.0l-1.4 2.0l1.6 1.0l-2.4 5.0l0.3 4.0l-1 1.0l-2 0.6l-4 3.9l-1 0.3l-3 -0.5l-2.5 0.7l-3.5 4.4l-1 -0.4l-1 -2.0l-1 -0.4l-4 1.9l-4 -1.1l-3 -1.9l-2 0.8l-3 -0.3l-1 -0.7l-2.1 -3.3l0.5 -5.0l-0.4 -2.0l1.6 -3.0l-0.6 -2.3l2.3 -1.7l1.2 -2.0l2.5 -0.3l2 -1.3l3 -0.1l2 -3.9l4 -1.1l2 -1.5z" fill="rgb(255, 0, 0)"/>
</g>
<path d="M653.0 56.6l-0.6 -2.1l0.6 -1.0M653.0 60.9l-0.8 -0.4l-0.1 -1.0l0.9 -0.6M653.0 63.7l-3 1.6l-1.1 -1.8l3.1 -1.1l1 1.0M653.0 127.6l-1.1 -0.1l-0.7 -1.0l0.8 -1.1l1 0.6M625.0 13.2l0.8 2.3l-0.6 2.0l-2.2 0.7l-2 -0.5l-0.8 0.8l0 1.0l2.1 1.0l0.7 1.0l3 0.3l2 -0.9l0.9 1.6l-1.3 1.0l0.4 0.9l1 -0.2l0.7 1.3l-0.2 1.0l2.5 1.3l1 0.4l2 -3.2l1 0.2l0.1 1.3l-1 2.0l0.6 2.0l-1.7 3.2l2 1.2l0.8 -1.4l2.2 -1.4l-0.4 2.4l0.4 1.0l-0.1 1.0l-1.9 0.6l-1 -0.2l-1.3 1.6l2.7 2.0l1.6 2.4l2 -1.6l1 1.1l-0.2 3.1l-2 1.0l-0.1 1.0l2.3 1.2l1.6 -2.2l3.9 -1.0l0 1.0l-1.9 3.0l3.8 3.0l2.4 1.0l-0.4 1.0l-1.4 0.9l-2 -1.7l-1.7 -0.2l-0.3 -0.9l-2 3.1l-2.3 1.8l0.3 2.0l-1.6 2.0l2 2.0l3.6 2.0l0.3 2.0l0.7 0.4l1.5 -0.4l0.8 1.0l-0.3 2.4l-2 1.2l-2 -0.1l-2.2 3.5l0.2 2.2l-1.8 0.8l-0.2 1.0l1 0.7l2 -0.7l1.6 1.0l-3.6 1.1l-2 3.7l-1 0.5l-2 -0.9l-0.9 0.6l1.3 2.0l-0.4 0.5l-2 0.0l-2 1.4l-1 -0.9l0 -1.0l0.9 -1.0l-0.6 -1.0l-1.3 -0.2l-0.7 -0.8l-0.3 -2.9l-1 -0.2l-1.1 1.1l0 1.0l-2.9 2.2l-2 0.1l-2.1 2.7l0 3.0l-0.9 1.0l0.6 1.0l2.4 0.0l1 0.7l0 1.3l-3 1.7l-1 0.0l-2 -1.5l-1 0.2l-0.1 -0.4l1.1 -0.2l1.7 -1.8l-1.7 -1.8l0 -1.2l-1 -0.4l-1 0.3l-0.8 3.1l-3.8 3.0l-0.4 1.0l-1 -0.3l-0.3 -1.7l-1.7 -0.9l-3.4 1.9l0 1.0l1.4 1.3l0.7 1.7l-1.7 1.8l0.3 1.2l-1 1.0l-2.3 -0.5l-1.5 0.5l-0.8 1.0l0.3 2.1l-3 0.4l-7 -0.7l-1.1 2.2l-0.9 0.4l-1.2 -0.4l-3.8 -3.0l-0.6 3.0l0.6 1.1l-1 0.1l-1 -0.7l-1 0.3l-1 1.1l-3 -1.6l-2 1.2l-1 -0.1l-3 2.4l-2.5 -0.8l-0.4 -1.0l1.3 -1.0l-2.4 -1.0l-1 1.5l-2.9 -2.5l-1.1 -2.3l-3 -0.6l-3 -2.0l-1 0.7l-1 -0.3l-3.7 -2.5l-1.3 -1.8l-1.5 -0.2l0.4 -2.0l-2.9 -0.3l-1 -0.7l-1.8 -2.0l0.3 -2.0l-1.5 -2.0l1.5 -2.0l-1.5 0.0l-0.6 -1.0l0.2 -2.0l-1.6 -1.5l-1.3 -3.5l0.9 -2.0l-0.2 -3.0l1.9 -2.0l-1.7 -1.0l-0.1 -1.0l1.5 -1.1l1 -2.1l1 -0.8l0.9 -5.0l1.5 -2.0l-0.8 -2.0l0.3 -2.0l1.1 -1.1l1.9 -0.9l1.1 -1.5l2 -0.3l3 -3.1l1.6 -0.1l1.4 -1.4l3.1 0.4l0.9 -0.5l1 -2.6l4 -1.2l1 -1.3l1.2 -4.4l0.8 -1.1l5 -0.9l5 -3.2l1.9 0.2l1.1 0.7l0.3 -0.7l-0.8 -1.0l0.5 -1.2l3 0.0l1 -2.1l6 -4.3l1 -0.3l1 1.3l1 0.1l1.4 -1.5l0.4 -2.0l1.2 -1.3l3 -0.2l2 0.9l2.7 -1.4l-0.6 -3.0l0.9 -0.7l1.9 1.7l-1.8 2.0l-0.1 2.0l1 0.5l2 -1.0l1.4 -2.5l2.6 -2.2l0.2 1.2l0.8 0.4l2 -1.4l1 -0.1l1 0.5l1 1.9l1 -0.1l1.6 -1.2l-0.3 -2.0l0.7 -0.5l1 1.1l3.4 -2.6l0.6 -1.3M619.0 20.8l0 1.8l2 0.0l2 1.3l1.8 -0.4l-0.8 -1.7l-1 -0.3l-2 0.7l-1 -1.3l-1 -0.1M636.0 22.2l1 -0.5l1.2 0.8l-1.2 0.4l-1 -0.2l0 -0.5M643.0 28.1l0.6 0.4l-1.2 0.0l0.6 -0.4M641.0 36.2l1.1 0.3l0 1.0l-1.1 0.9l-1.1 -0.9l0.2 -1.0l0.9 -0.3M645.0 39.3l1 0.2l0.5 1.0l-0.5 1.1l-1 -0.2l-0.6 -0.9l0.6 -1.2M635.0 48.9l-0.8 0.6l0.8 0.7l0.5 -0.7l-0.5 -0.6M642.0 52.3l-0.4 0.2l0.4 1.2l0 -1.4M646.0 56.7l0.9 0.8l-1.1 0.0l0.2 -0.8M645.0 68.4l-0.7 0.1l0.7 1.2l1 -1.2l-1 -0.1M638.0 70.1l-0.4 0.4l0.4 0.8l0.4 -0.8l-0.4 -0.4M647.0 73.4l1.4 2.1l-0.1 1.0l-1.3 0.7l-1.7 -1.7l0 -1.0l1.7 -1.1M639.0 74.5l-0.4 1.0l0.4 0.3l0.6 -0.3l-0.6 -1.0M634.0 81.0l-1 1.5l1 0.4l0.4 -0.4l-0.4 -1.5M634.0 86.2l-0.8 0.3l0.8 0.9l0.7 -0.9l-0.7 -0.3M535.0 88.4l2.8 0.1l-0.8 0.8l-2 -0.9M639.0 88.2l1 -0.3l0.8 0.6l-0.8 1.1l-1.5 -1.1l0.5 -0.3M538.0 93.4l2.9 1.1l-0.9 2.2l-1 -0.1l-2.1 -2.1l1.1 -1.1M618.0 100.1l0 0.7l-0.6 -0.3l0.6 -0.4M560.0 102.3l-0.5 0.2l0.5 1.1l0 -1.3M579.0 124.3l5 2.3l2 -0.1l1 -1.2l1 -0.3l0.9 0.5l0.1 0.7l0.4 -1.7l0.6 -0.4l3 2.9l3.4 0.5l0.6 2.9l2 -1.8l2 1.9l-3 4.8l-2 -1.2l-0.4 1.4l0.6 1.0l-1.2 1.2l-4 0.6l-0.7 -0.8l-1.3 -0.1l-3 1.3l-1 -1.2l-1 -0.3l-1.1 0.3l-1.9 2.1l-3 1.5l-3 -0.3l-2 -1.4l-2 -0.3l-4 -2.0l-3 1.2l-1 -0.2l-0.5 -0.6l-2.8 -1.0l0.6 -1.0l-0.3 -1.3l-1 -0.1l-4 2.1l-0.7 -0.7l0.7 -3.0l-0.9 -1.0l0.9 -2.0l4 0.2l1.4 -1.2l0 -2.0l0.6 -0.3l1 0.3l0.4 1.0l-0.3 1.0l0.7 1.0l1.2 0.3l3 -2.1l2 -0.6l6 0.0l0.9 -1.6l3.1 -1.2M607.0 130.5l1.7 0.0l-0.2 3.0l1.1 2.0l-1.6 0.0l-1.2 -2.0l-0.5 -2.0l0.7 -1.0M597.0 130.8l0 1.9l0 -1.9M603.0 132.3l1.8 0.2l0.1 1.0l-1.9 0.5l-0.6 -0.5l0.6 -1.2M612.0 133.4l0 0.5l0 -0.5M549.0 135.8l0.6 0.7l-0.6 0.4l0 -1.1M563.0 138.9l0.4 0.6l-0.4 0.5l-0.9 -0.5l0.9 -0.6" fill="none" stroke="#2a3a50" stroke-opacity="0.75" stroke-width="0.6"/>
<path d="M612.0 22.0l0.5 3.5l1.5 2.0l-1 0.5l-1 -0.5l-1.7 -3.0l-0.1 -1.0l1.8 -1.5M607.0 24.3l1 -0.6l1 0.8l0.2 2.0l0.8 1.5l3 2.6l1.6 -1.1l0.4 -1.2l2 0.5l1.3 -0.3l-1.3 -2.4l-1 0.2l-1 -0.8l1 -0.8l3 0.5l4 2.8l1.6 0.5l1.7 2.0l0.7 3.3l1.9 -0.3l-0.2 -3.0l-1.3 -1.0l0.6 -0.7l1.3 0.7l-0.2 1.0l1.2 1.0l0 1.0l-1 1.0l0.7 2.0l-0.1 2.0l1.2 1.0l-1.3 2.0l-0.3 2.0l-2.6 2.0l-0.2 5.0l0.3 0.5l1 -0.1l0.2 -0.4l-0.8 -1.0l0.6 -1.0l1 0.2l2.6 3.8l-2.8 2.0l-0.4 1.0l1.6 0.8l2 -0.7l3 0.7l1 1.2l-2 0.7l-1 1.5l-2 0.3l-1.1 1.5l1.8 2.0l1.4 6.0l-1.6 0.0l-0.7 2.0l1 3.0l1.8 2.0l-2.6 3.3l-1 0.2l-6 5.0l-2 0.6l-1 1.4l-2 0.7l-5.8 3.8l-0.6 1.0l-6.6 2.5l-2.1 1.5l-2.9 3.6l-4.6 1.4l-0.4 2.0l-1 0.8l-1 0.3l-2 -1.5l-1 0.0l-1 2.4l-2 1.4l-2 0.0l-1.6 -1.4l-1.4 -0.3l-1 0.4l-1 1.4l-2 0.9l-4 1.1l-2 -0.1l-1.7 -1.4l-2.3 -0.9l-1 -1.4l-2 -0.3l-3 -1.5l-6 -3.9l-1 -0.1l-2 1.1l-5 -3.5l-3 -1.1l-1 0.3l-1.1 -1.7l0.4 -3.0l-0.3 -1.0l1.3 -5.0l-1.3 -3.2l-1 -0.8l-2 -0.3l-0.3 -0.7l2.2 -4.0l-1.3 -4.0l1.4 -3.2l1.4 -0.8l-0.4 -2.0l1.3 -4.0l1.8 -2.0l0.2 -2.0l2.5 -3.0l4.7 -3.0l1.5 -1.9l2 0.0l2 -1.0l2 -2.0l1 0.0l3.7 -3.1l2.3 -2.9l2 0.0l6 -3.1l6 -2.0l3 -3.4l3 -1.9l2 -0.7l3 -0.1l2.2 -1.9l0.8 -0.2l2 1.5l3 0.9l2 -2.7l2.6 -0.5l0.4 -2.2M625.0 26.3l0.8 0.2l-0.8 0.5l0 -0.7M633.0 42.5l1 0.5l0 1.0l-2 0.6l-1.2 -1.1l2.2 -1.0M625.0 60.2l-0.7 0.3l0.7 0.5l0.7 -0.5l-0.7 -0.3M634.0 60.8l1.2 0.7l-1.2 1.4l-0.5 -1.4l0.5 -0.7M643.0 71.0l0 0.8l-0.4 -0.3l0.4 -0.5M629.0 72.1l-1 0.4l0 1.2l1 0.8l1 0.0l0.4 -2.0l-1.4 -0.4M635.0 74.3l0 0.4l0 -0.4M547.0 90.3l0 0.5l1 0.4l0 -0.8l-1 -0.1M568.0 107.4l1 0.0l0 0.5l-1 -0.5M581.0 127.3l4 3.3l2 -1.3l4 -0.8l2.3 1.0l0.2 1.0l-2.5 1.0l0.4 3.0l-0.7 1.0l-3.7 0.8l-4 -0.4l-5 2.7l-3 -2.2l-3 0.8l-4 -2.7l-1 0.2l-2 1.4l-1.2 -0.6l2.2 -1.3l1.5 -3.7l1.5 0.1l4 -1.6l5 -0.3l3 -1.4" fill="none" stroke="#2a3a50" stroke-opacity="0.75" stroke-width="0.6"/>
<path d="M605.0 29.1l2.6 0.4l0.2 1.0l-2.5 0.0l-0.3 -1.4M609.0 31.0l0.9 1.5l-0.9 0.3l-0.5 -1.3l0.5 -0.5M598.0 33.3l3 1.2l2 -0.3l2 1.2l0.1 1.1l0.9 0.6l1 -1.0l1 -0.1l3 1.2l0.6 1.3l2.4 0.5l1 1.5l1 0.5l1 -0.8l1 0.5l0.9 4.8l-0.8 2.0l2.9 1.5l0.9 1.5l-2.6 2.0l0 2.0l-0.9 2.0l2.6 2.0l1.7 4.0l-1.9 4.0l1.1 4.0l1.4 1.0l1.7 0.2l0.5 0.8l-1.5 3.6l-0.8 0.4l1.1 2.0l-1.3 1.5l-3 0.8l-1.8 2.7l-2.2 1.7l-4.3 2.3l-4.7 1.7l-2.7 4.3l-4.3 1.8l-1 2.0l-2 0.8l-3 -0.4l-2 2.0l-7 0.8l0.5 1.0l-1.5 0.9l-6 0.4l-4 -1.7l-2 0.2l-3 -2.2l-2 0.5l-2 -1.2l-3 0.2l-5 -2.6l-3 0.0l-1.3 -0.5l-1.7 -1.7l-0.7 -2.3l-1.9 -3.0l-1.4 -6.1l-2.2 -3.9l0.4 -2.0l-0.7 -2.0l2.5 -5.0l0.2 -1.0l-0.9 -3.0l0.3 -1.0l1.6 -1.0l0.8 -4.0l1.1 -1.0l1.1 -3.0l4.8 -4.5l4 -2.0l2 -2.0l1 0.0l6 -3.6l7 -3.1l3 -0.4l2 -1.3l3 -0.7l2 -1.5l2 1.1l1 -0.9l2 0.9l1.8 -3.0l2.2 -0.8l2 0.9l1 -1.3M613.0 35.1l1.1 0.4l-0.6 1.0l-0.7 0.0l-0.7 -1.0l0.9 -0.4M618.0 59.3l1 1.3l0.2 -1.1l-1.2 -0.2M621.0 76.2l0 1.3l1.3 -1.0l-1.3 -0.3M578.0 130.9l1 0.0l0.8 0.6l-0.7 1.0l-1.1 -0.2l-0.7 -0.8l0.7 -0.6" fill="none" stroke="#2a3a50" stroke-opacity="0.75" stroke-width="0.6"/>
<path d="M593.0 38.9l1 -0.1l1.1 0.7l0.2 2.0l3.2 2.0l6.5 0.4l1.2 0.6l-0.3 2.0l2.1 2.7l0.2 2.3l2.6 3.0l0.4 2.0l1.9 2.0l2.3 8.0l1.9 2.0l2.3 1.0l-0.6 1.5l-1 -0.2l-0.9 0.7l0.3 1.0l1.3 1.0l-0.7 2.6l-1 1.1l-1.8 0.3l0.2 2.0l-0.4 0.8l-2.3 1.2l1 1.0l0 1.0l-9.7 7.6l-2 0.4l-4 2.4l-11 2.2l-2 1.1l-1 1.3l-3 -0.5l-2 1.0l-2 -0.2l-2 0.7l-7 -2.5l-4 0.2l-3 -1.6l-7 -2.2l-4.2 -4.9l-1.3 -5.0l-0.9 -9.0l0.8 -2.0l0 -2.0l1.1 -5.0l1.9 -3.0l0.1 -2.0l1.3 -2.0l0.4 -2.0l3.2 -5.0l7.6 -5.0l3 -0.5l3 -1.5l3 -0.4l3 -1.5l15 -1.0l2 -2.7M604.0 41.2l2.2 0.3l-1.2 1.4l-1.9 -1.4l0.9 -0.3M615.0 68.1l0 1.1l0.4 -0.7l-0.4 -0.4M616.0 69.3l-0.5 0.2l0.5 0.5l0 -0.7" fill="none" stroke="#2a3a50" stroke-opacity="0.75" stroke-width="0.6"/>
<path d="M584.0 43.4l3 0.3l3 -0.8l2 0.3l9.1 2.3l3.4 2.0l2.4 5.0l2.5 3.0l0.7 4.0l2.3 4.0l-0.5 3.0l0.9 4.0l-0.1 5.0l-2.9 3.0l-1.2 4.0l-5.2 3.0l-0.4 2.1l-2 1.1l-2 -0.2l-6 4.8l-3 -0.5l-7 2.0l-4 0.2l-1.5 0.5l-1.5 1.5l-1 -0.1l-1 -1.5l-1 -0.4l-2 1.5l-4 -1.8l-1 -0.2l-1 0.8l-1 -0.4l-1 -1.5l-5 -1.0l-4 -1.8l-3.4 -4.1l-0.9 -4.0l1 -2.0l-1.7 -3.0l1.5 -6.0l-0.2 -2.0l0.6 -3.0l2.1 -4.1l1.3 -0.9l1.5 -4.0l0.2 -2.1l6.5 -3.9l2.5 -3.5l1 -0.5l2 -0.4l2 0.6l1.1 -1.2l2.9 -1.2l2 -0.1l2 -1.5l3 0.9l3 -1.2" fill="none" stroke="#2a3a50" stroke-opacity="0.75" stroke-width="0.6"/>
<path d="M587.0 45.4l4 -0.7l4 1.2l3 0.2l5 3.2l1.1 3.2l2.3 3.0l0 2.0l1.6 1.7l1 5.3l1 1.6l0.5 2.4l-0.7 4.0l-1.6 2.0l-1.2 2.9l-2.8 2.1l-0.2 2.4l-1 0.4l-1 -1.3l-2 1.0l-1 2.3l-1.5 1.2l-1 3.0l-2.5 1.7l-6 0.6l-4 1.3l-5 0.3l-3 1.7l-3 -0.9l-8 -0.5l-9.3 -3.2l-3.1 -3.0l-0.5 -7.0l-1.1 -2.0l0.6 -4.0l0.9 -2.0l-0.3 -5.0l4.2 -5.0l0.5 -2.0l4.4 -5.0l2 -1.0l3.7 -3.2l6 -1.3l2 -1.6l2 -0.1l1 -0.6l2 0.5l3 -1.5l4 -0.3" fill="none" stroke="#2a3a50" stroke-opacity="0.75" stroke-width="0.6"/>
<path d="M589.0 47.4l3 0.7l5 -0.3l2 2.8l1.4 0.9l1.8 4.0l1.8 1.0l0.2 2.0l2.2 4.0l2 6.0l-1.3 4.0l-1.8 3.0l-8.7 8.0l-1.7 3.0l-4.9 2.6l-13 1.9l-2 1.0l-7 -0.2l-7 -1.6l-6 -3.9l-1.5 -3.8l0 -3.0l-0.8 -2.0l0.3 -3.0l1.4 -3.0l0 -4.0l0.6 -1.6l1 -1.7l2 -0.7l1.4 -4.0l3.6 -1.7l1.4 -2.3l1.6 -1.2l4 -1.4l5 -3.1l4 -0.1l4 -1.6l3 1.0l3 -1.7" fill="none" stroke="#2a3a50" stroke-opacity="0.75" stroke-width="0.6"/>
<path d="M591.0 50.0l2 0.2l4 2.2l1 2.1l2.8 2.0l1.2 1.8l1.1 4.2l1.6 2.0l1.2 3.0l0 1.0l-1.2 1.0l-0.7 2.0l-0.5 3.0l-2.2 3.0l-2.7 3.0l-3.6 2.4l-1.8 2.6l-4.2 2.5l-3 0.2l-5 1.3l-5 -0.2l-5 1.4l-2 0.0l-8 -1.8l-2 -1.1l-3.2 -3.3l-1.7 -7.0l1.1 -2.0l0.9 -5.0l-0.2 -2.0l2.9 -3.0l1.2 -2.5l3 -1.7l2.9 -2.8l1.3 -3.0l0.8 -0.6l3 -0.1l3.1 -1.3l1.9 -1.8l6 1.1l1 -1.3l2 0.5l1 -0.5l2 1.2l3 -2.7" fill="none" stroke="#2a3a50" stroke-opacity="0.75" stroke-width="0.6"/>
</g>
<line x1="43.40" y1="128.30" x2="214.50" y2="128.30" stroke="#fff" stroke-width="2.4" stroke-dasharray="7.9 5.2"/>
<line x1="88.90" y1="127.10" x2="88.90" y2="160.60" stroke="#fff" stroke-width="2.4" stroke-dasharray="7.9 5.2" stroke-dashoffset="2.3"/>
<line x1="117.10" y1="49.80" x2="117.10" y2="160.60" stroke="#fff" stroke-width="2.4" stroke-dasharray="7.9 5.2" stroke-dashoffset="4.95"/>
<rect x="42.90" y="1.20" width="171.60" height="159.40" fill="none" stroke="#111" stroke-width="1.2"/>
<text x="46.30" y="18.40" font-size="14" text-anchor="start" fill="#fff" font-weight="bold" >2%KOH/8%PS</text>
<text x="46.30" y="35.00" font-size="14" text-anchor="start" fill="#fff" font-weight="bold" >Non-MW 60 min</text>
<line x1="269.90" y1="129.20" x2="444.20" y2="129.20" stroke="#fff" stroke-width="2.4" stroke-dasharray="7.9 5.2"/>
<line x1="315.90" y1="128.00" x2="315.90" y2="160.60" stroke="#fff" stroke-width="2.4" stroke-dasharray="7.9 5.2" stroke-dashoffset="2.3"/>
<line x1="345.30" y1="52.80" x2="345.30" y2="160.60" stroke="#fff" stroke-width="2.4" stroke-dasharray="7.9 5.2" stroke-dashoffset="5.1"/>
<rect x="269.80" y="4.00" width="174.40" height="156.60" fill="none" stroke="#111" stroke-width="1.2"/>
<text x="275.20" y="19.60" font-size="14" text-anchor="start" fill="#fff" font-weight="bold" >6%KOH/6%PS</text>
<text x="275.20" y="36.30" font-size="14" text-anchor="start" fill="#fff" font-weight="bold" >Non-MW 60 min</text>
<line x1="480.30" y1="128.70" x2="653.80" y2="128.70" stroke="#fff" stroke-width="2.4" stroke-dasharray="7.9 5.2"/>
<line x1="526.00" y1="127.50" x2="526.00" y2="160.40" stroke="#fff" stroke-width="2.4" stroke-dasharray="7.9 5.2" stroke-dashoffset="2.3"/>
<line x1="554.60" y1="52.80" x2="554.60" y2="160.40" stroke="#fff" stroke-width="2.4" stroke-dasharray="7.9 5.2" stroke-dashoffset="5.1"/>
<rect x="479.20" y="4.10" width="174.60" height="156.30" fill="none" stroke="#111" stroke-width="1.2"/>
<text x="482.90" y="21.90" font-size="14" text-anchor="start" fill="#fff" font-weight="bold" >8%KOH/8%PS</text>
<text x="482.90" y="38.70" font-size="14" text-anchor="start" fill="#fff" font-weight="bold" >Non-MW 60 min</text>
<text x="66.00" y="151.50" font-size="15" text-anchor="middle" fill="#fff" font-weight="bold" >I</text>
<text x="103.50" y="151.50" font-size="15" text-anchor="middle" fill="#fff" font-weight="bold" >II</text>
<text x="164.40" y="151.50" font-size="15" text-anchor="middle" fill="#fff" font-weight="bold" >III</text>
<text x="107.90" y="82.40" font-size="15" text-anchor="middle" fill="#fff" font-weight="bold" >IV</text>
<text x="124.80" y="82.40" font-size="15" text-anchor="middle" fill="#fff" font-weight="bold" >V</text>
<line x1="71.10" y1="160.50" x2="71.10" y2="163.50" stroke="#000" stroke-width="1" />
<text x="71.10" y="173.60" font-size="12" text-anchor="middle" fill="#000" font-weight="bold" >300</text>
<line x1="128.55" y1="160.50" x2="128.55" y2="163.50" stroke="#000" stroke-width="1" />
<text x="128.55" y="173.60" font-size="12" text-anchor="middle" fill="#000" font-weight="bold" >400</text>
<line x1="186.00" y1="160.50" x2="186.00" y2="163.50" stroke="#000" stroke-width="1" />
<text x="186.00" y="173.60" font-size="12" text-anchor="middle" fill="#000" font-weight="bold" >500</text>
<line x1="99.82" y1="160.50" x2="99.82" y2="162.50" stroke="#000" stroke-width="1" />
<line x1="157.27" y1="160.50" x2="157.27" y2="162.50" stroke="#000" stroke-width="1" />
<line x1="40.00" y1="160.20" x2="43.00" y2="160.20" stroke="#000" stroke-width="1" />
<text x="37.60" y="163.80" font-size="12" text-anchor="end" fill="#000" font-weight="bold" >200</text>
<line x1="40.00" y1="97.10" x2="43.00" y2="97.10" stroke="#000" stroke-width="1" />
<text x="37.60" y="100.70" font-size="12" text-anchor="end" fill="#000" font-weight="bold" >300</text>
<line x1="40.00" y1="34.00" x2="43.00" y2="34.00" stroke="#000" stroke-width="1" />
<text x="37.60" y="37.60" font-size="12" text-anchor="end" fill="#000" font-weight="bold" >400</text>
<line x1="41.00" y1="128.65" x2="43.00" y2="128.65" stroke="#000" stroke-width="1" />
<line x1="41.00" y1="65.55" x2="43.00" y2="65.55" stroke="#000" stroke-width="1" />
<text x="0.00" y="0.00" font-size="14" text-anchor="middle" fill="#000" font-weight="bold" transform="translate(14.1,77) rotate(-90)">EX (nm)</text>
<line x1="298.80" y1="160.50" x2="298.80" y2="163.50" stroke="#000" stroke-width="1" />
<text x="298.80" y="173.60" font-size="12" text-anchor="middle" fill="#000" font-weight="bold" >300</text>
<line x1="356.50" y1="160.50" x2="356.50" y2="163.50" stroke="#000" stroke-width="1" />
<text x="356.50" y="173.60" font-size="12" text-anchor="middle" fill="#000" font-weight="bold" >400</text>
<line x1="414.20" y1="160.50" x2="414.20" y2="163.50" stroke="#000" stroke-width="1" />
<text x="414.20" y="173.60" font-size="12" text-anchor="middle" fill="#000" font-weight="bold" >500</text>
<line x1="327.65" y1="160.50" x2="327.65" y2="162.50" stroke="#000" stroke-width="1" />
<line x1="385.35" y1="160.50" x2="385.35" y2="162.50" stroke="#000" stroke-width="1" />
<line x1="508.20" y1="160.50" x2="508.20" y2="163.50" stroke="#000" stroke-width="1" />
<text x="508.20" y="173.60" font-size="12" text-anchor="middle" fill="#000" font-weight="bold" >300</text>
<line x1="566.40" y1="160.50" x2="566.40" y2="163.50" stroke="#000" stroke-width="1" />
<text x="566.40" y="173.60" font-size="12" text-anchor="middle" fill="#000" font-weight="bold" >400</text>
<line x1="624.60" y1="160.50" x2="624.60" y2="163.50" stroke="#000" stroke-width="1" />
<text x="624.60" y="173.60" font-size="12" text-anchor="middle" fill="#000" font-weight="bold" >500</text>
<line x1="537.30" y1="160.50" x2="537.30" y2="162.50" stroke="#000" stroke-width="1" />
<line x1="595.50" y1="160.50" x2="595.50" y2="162.50" stroke="#000" stroke-width="1" />
<defs><linearGradient id="cb" x1="0" y1="0" x2="0" y2="1"><stop offset="0" stop-color="#7a0000"/><stop offset="0.06" stop-color="#d00000"/><stop offset="0.13" stop-color="#ff2a00"/><stop offset="0.21" stop-color="#ff8a00"/><stop offset="0.29" stop-color="#ffd800"/><stop offset="0.37" stop-color="#c8f000"/><stop offset="0.46" stop-color="#30d820"/><stop offset="0.55" stop-color="#10c880"/><stop offset="0.64" stop-color="#00c0d0"/><stop offset="0.76" stop-color="#0098f0"/><stop offset="0.88" stop-color="#0040f0"/><stop offset="1" stop-color="#0010b0"/></linearGradient></defs>
<rect x="218.50" y="4.10" width="4.00" height="155.80" fill="url(#cb)" stroke="#222" stroke-width="0.8" />
<line x1="222.50" y1="8.00" x2="225.50" y2="8.00" stroke="#000" stroke-width="1" />
<text x="228.60" y="11.30" font-size="9" text-anchor="start" fill="#000" font-weight="bold" >5000</text>
<line x1="222.50" y1="37.75" x2="225.50" y2="37.75" stroke="#000" stroke-width="1" />
<text x="228.60" y="41.05" font-size="9" text-anchor="start" fill="#000" font-weight="bold" >4000</text>
<line x1="222.50" y1="67.50" x2="225.50" y2="67.50" stroke="#000" stroke-width="1" />
<text x="228.60" y="70.80" font-size="9" text-anchor="start" fill="#000" font-weight="bold" >3000</text>
<line x1="222.50" y1="97.25" x2="225.50" y2="97.25" stroke="#000" stroke-width="1" />
<text x="228.60" y="100.55" font-size="9" text-anchor="start" fill="#000" font-weight="bold" >2000</text>
<line x1="222.50" y1="127.00" x2="225.50" y2="127.00" stroke="#000" stroke-width="1" />
<text x="228.60" y="130.30" font-size="9" text-anchor="start" fill="#000" font-weight="bold" >1000</text>
<line x1="222.50" y1="156.75" x2="225.50" y2="156.75" stroke="#000" stroke-width="1" />
<text x="228.60" y="160.05" font-size="9" text-anchor="start" fill="#000" font-weight="bold" >0</text>
<text x="-0.60" y="11.60" font-size="13" text-anchor="start" fill="#000" font-weight="bold" >(A)</text>
<text x="249.60" y="13.20" font-size="13" text-anchor="start" fill="#000" font-weight="bold" >(B)</text>
<text x="456.50" y="15.20" font-size="13" text-anchor="start" fill="#000" font-weight="bold" >(C)</text>
<text x="0.80" y="199.90" font-size="13" text-anchor="start" fill="#000" font-weight="bold" >(D)</text>
<text x="227.40" y="201.50" font-size="13" text-anchor="start" fill="#000" font-weight="bold" >(E)</text>
<text x="446.80" y="202.30" font-size="13" text-anchor="start" fill="#000" font-weight="bold" >(F)</text>
<rect x="53.70" y="333.70" width="37.90" height="7.30" fill="#808080" stroke="#333" stroke-width="0.8" />
<rect x="108.20" y="233.40" width="37.80" height="107.60" fill="#0000a0" stroke="#000" stroke-width="0.8" />
<rect x="163.40" y="240.11" width="37.20" height="100.89" fill="#800000" stroke="#000" stroke-width="0.8" />
<line x1="73.50" y1="332.54" x2="73.50" y2="334.87" stroke="#222" stroke-width="0.9" />
<line x1="68.50" y1="332.54" x2="78.50" y2="332.54" stroke="#222" stroke-width="0.9" />
<line x1="68.50" y1="334.87" x2="78.50" y2="334.87" stroke="#222" stroke-width="0.9" />
<line x1="127.30" y1="231.43" x2="127.30" y2="235.37" stroke="#000" stroke-width="0.9" />
<line x1="122.30" y1="231.43" x2="132.30" y2="231.43" stroke="#000" stroke-width="0.9" />
<line x1="122.30" y1="235.37" x2="132.30" y2="235.37" stroke="#000" stroke-width="0.9" />
<line x1="182.00" y1="237.92" x2="182.00" y2="242.30" stroke="#000" stroke-width="0.9" />
<line x1="177.00" y1="237.92" x2="187.00" y2="237.92" stroke="#000" stroke-width="0.9" />
<line x1="177.00" y1="242.30" x2="187.00" y2="242.30" stroke="#000" stroke-width="0.9" />
<defs><radialGradient id="gdb" cx="0.38" cy="0.35" r="0.7"><stop offset="0" stop-color="#b0b8ff"/><stop offset="0.45" stop-color="#2a3cff"/><stop offset="1" stop-color="#1020e0"/></radialGradient><radialGradient id="gdr" cx="0.38" cy="0.35" r="0.7"><stop offset="0" stop-color="#ffc0c0"/><stop offset="0.45" stop-color="#ff2020"/><stop offset="1" stop-color="#e00000"/></radialGradient><radialGradient id="gdg" cx="0.38" cy="0.35" r="0.7"><stop offset="0" stop-color="#ffffff"/><stop offset="0.5" stop-color="#e0e0e0"/><stop offset="1" stop-color="#b8b8b8"/></radialGradient></defs>
<circle cx="68.80" cy="332.60" r="2.1" fill="url(#gdg)"/>
<circle cx="70.20" cy="334.60" r="2.1" fill="url(#gdg)"/>
<circle cx="71.00" cy="333.70" r="2.1" fill="url(#gdg)"/>
<circle cx="121.00" cy="236.00" r="2.1" fill="url(#gdb)"/>
<circle cx="127.00" cy="232.60" r="2.1" fill="url(#gdb)"/>
<circle cx="131.80" cy="230.60" r="2.1" fill="url(#gdb)"/>
<circle cx="177.30" cy="243.70" r="2.1" fill="url(#gdr)"/>
<circle cx="181.50" cy="239.80" r="2.1" fill="url(#gdr)"/>
<circle cx="180.80" cy="236.40" r="2.1" fill="url(#gdr)"/>
<path d="M45.3,195.1 H214.9 V341.4 H45.3 Z" fill="none" stroke="#000" stroke-width="2"/>
<line x1="45.30" y1="341.00" x2="48.30" y2="341.00" stroke="#000" stroke-width="1.2" />
<text x="41.60" y="345.30" font-size="12" text-anchor="end" fill="#000" font-weight="bold" >0</text>
<line x1="45.30" y1="311.82" x2="48.30" y2="311.82" stroke="#000" stroke-width="1.2" />
<text x="41.60" y="316.12" font-size="12" text-anchor="end" fill="#000" font-weight="bold" >40</text>
<line x1="45.30" y1="282.64" x2="48.30" y2="282.64" stroke="#000" stroke-width="1.2" />
<text x="41.60" y="286.94" font-size="12" text-anchor="end" fill="#000" font-weight="bold" >80</text>
<line x1="45.30" y1="253.46" x2="48.30" y2="253.46" stroke="#000" stroke-width="1.2" />
<text x="41.60" y="257.76" font-size="12" text-anchor="end" fill="#000" font-weight="bold" >120</text>
<line x1="45.30" y1="224.28" x2="48.30" y2="224.28" stroke="#000" stroke-width="1.2" />
<text x="41.60" y="228.58" font-size="12" text-anchor="end" fill="#000" font-weight="bold" >160</text>
<line x1="45.30" y1="195.10" x2="48.30" y2="195.10" stroke="#000" stroke-width="1.2" />
<text x="41.60" y="199.40" font-size="12" text-anchor="end" fill="#000" font-weight="bold" >200</text>
<line x1="45.30" y1="326.41" x2="47.10" y2="326.41" stroke="#000" stroke-width="1" />
<line x1="45.30" y1="297.23" x2="47.10" y2="297.23" stroke="#000" stroke-width="1" />
<line x1="45.30" y1="268.05" x2="47.10" y2="268.05" stroke="#000" stroke-width="1" />
<line x1="45.30" y1="238.87" x2="47.10" y2="238.87" stroke="#000" stroke-width="1" />
<line x1="45.30" y1="209.69" x2="47.10" y2="209.69" stroke="#000" stroke-width="1" />
<text x="0.00" y="0.00" font-size="13.9" text-anchor="middle" fill="#000" font-weight="bold" transform="translate(12.8,270.5) rotate(-90)">FLA content (mg/g)</text>
<text x="74.00" y="357.80" font-size="10.3" text-anchor="middle" fill="#000" font-weight="bold" >WP</text>
<text x="121.50" y="357.80" font-size="10.3" text-anchor="middle" fill="#000" font-weight="bold" >2%KOH/2%PS</text>
<text x="122.20" y="370.20" font-size="10.3" text-anchor="middle" fill="#000" font-weight="bold" >MW 10 min</text>
<text x="199.50" y="357.80" font-size="10.3" text-anchor="middle" fill="#000" font-weight="bold" >8%KOH/8%PS</text>
<text x="199.50" y="370.20" font-size="10.3" text-anchor="middle" fill="#000" font-weight="bold" >Non-MW 60 min</text>
<g clip-path="url(#clipE)">
<polyline points="270.90,335.59 305.44,301.34 339.98,287.49 374.52,262.86 409.06,258.49 443.60,250.76" fill="none" stroke="#555555" stroke-width="1.2"/>
<polyline points="270.90,335.59 305.44,313.87 339.98,315.48 374.52,320.58 409.06,322.91 443.60,325.24" fill="none" stroke="#ee4444" stroke-width="1.2"/>
<polyline points="270.90,335.59 305.44,298.72 339.98,286.91 374.52,260.82 409.06,238.96 443.60,232.40" fill="none" stroke="#2a78e8" stroke-width="1.2"/>
<polyline points="270.90,335.59 305.44,279.62 339.98,252.51 374.52,265.19 409.06,274.23 443.60,288.66" fill="none" stroke="#3aa868" stroke-width="1.2"/>
<rect x="268.50" y="333.19" width="4.80" height="4.80" fill="#555555"/>
<rect x="303.04" y="298.94" width="4.80" height="4.80" fill="#555555"/>
<rect x="337.58" y="285.09" width="4.80" height="4.80" fill="#555555"/>
<rect x="372.12" y="260.46" width="4.80" height="4.80" fill="#555555"/>
<rect x="406.66" y="256.09" width="4.80" height="4.80" fill="#555555"/>
<rect x="441.20" y="248.36" width="4.80" height="4.80" fill="#555555"/>
<circle cx="270.90" cy="335.59" r="2.60" fill="#ee4444"/>
<circle cx="305.44" cy="313.87" r="2.60" fill="#ee4444"/>
<circle cx="339.98" cy="315.48" r="2.60" fill="#ee4444"/>
<circle cx="374.52" cy="320.58" r="2.60" fill="#ee4444"/>
<circle cx="409.06" cy="322.91" r="2.60" fill="#ee4444"/>
<circle cx="443.60" cy="325.24" r="2.60" fill="#ee4444"/>
<path d="M270.90,332.19 L274.10,337.79 L267.70,337.79 Z" fill="#2a78e8"/>
<path d="M305.44,295.32 L308.64,300.92 L302.24,300.92 Z" fill="#2a78e8"/>
<path d="M339.98,283.51 L343.18,289.11 L336.78,289.11 Z" fill="#2a78e8"/>
<path d="M374.52,257.42 L377.72,263.02 L371.32,263.02 Z" fill="#2a78e8"/>
<path d="M409.06,235.56 L412.26,241.16 L405.86,241.16 Z" fill="#2a78e8"/>
<path d="M443.60,229.00 L446.80,234.60 L440.40,234.60 Z" fill="#2a78e8"/>
<path d="M270.90,338.99 L274.10,333.39 L267.70,333.39 Z" fill="#3aa868"/>
<path d="M305.44,283.02 L308.64,277.42 L302.24,277.42 Z" fill="#3aa868"/>
<path d="M339.98,255.91 L343.18,250.31 L336.78,250.31 Z" fill="#3aa868"/>
<path d="M374.52,268.59 L377.72,262.99 L371.32,262.99 Z" fill="#3aa868"/>
<path d="M409.06,277.63 L412.26,272.03 L405.86,272.03 Z" fill="#3aa868"/>
<path d="M443.60,292.06 L446.80,286.46 L440.40,286.46 Z" fill="#3aa868"/>
</g>
<defs><clipPath id="clipE"><rect x="262" y="186" width="190" height="160"/></clipPath></defs>
<path d="M271.0,194.3 H443.6 V340.3 H271.0 Z" fill="none" stroke="#000" stroke-width="2"/>
<line x1="271.00" y1="340.40" x2="274.00" y2="340.40" stroke="#000" stroke-width="1.2" />
<text x="267.60" y="344.70" font-size="12.5" text-anchor="end" fill="#000" font-weight="bold" >20</text>
<line x1="271.00" y1="311.25" x2="274.00" y2="311.25" stroke="#000" stroke-width="1.2" />
<text x="267.60" y="315.55" font-size="12.5" text-anchor="end" fill="#000" font-weight="bold" >40</text>
<line x1="271.00" y1="282.10" x2="274.00" y2="282.10" stroke="#000" stroke-width="1.2" />
<text x="267.60" y="286.40" font-size="12.5" text-anchor="end" fill="#000" font-weight="bold" >60</text>
<line x1="271.00" y1="252.95" x2="274.00" y2="252.95" stroke="#000" stroke-width="1.2" />
<text x="267.60" y="257.25" font-size="12.5" text-anchor="end" fill="#000" font-weight="bold" >80</text>
<line x1="271.00" y1="223.80" x2="274.00" y2="223.80" stroke="#000" stroke-width="1.2" />
<text x="267.60" y="228.10" font-size="12.5" text-anchor="end" fill="#000" font-weight="bold" >100</text>
<line x1="271.00" y1="194.65" x2="274.00" y2="194.65" stroke="#000" stroke-width="1.2" />
<text x="267.60" y="198.95" font-size="12.5" text-anchor="end" fill="#000" font-weight="bold" >120</text>
<line x1="271.00" y1="325.82" x2="272.80" y2="325.82" stroke="#000" stroke-width="1" />
<line x1="271.00" y1="296.67" x2="272.80" y2="296.67" stroke="#000" stroke-width="1" />
<line x1="271.00" y1="267.52" x2="272.80" y2="267.52" stroke="#000" stroke-width="1" />
<line x1="271.00" y1="238.37" x2="272.80" y2="238.37" stroke="#000" stroke-width="1" />
<line x1="271.00" y1="209.22" x2="272.80" y2="209.22" stroke="#000" stroke-width="1" />
<line x1="270.90" y1="340.30" x2="270.90" y2="337.30" stroke="#000" stroke-width="1.2" />
<text x="270.90" y="354.40" font-size="12.5" text-anchor="middle" fill="#000" font-weight="bold" >0</text>
<line x1="305.44" y1="340.30" x2="305.44" y2="337.30" stroke="#000" stroke-width="1.2" />
<text x="305.44" y="354.40" font-size="12.5" text-anchor="middle" fill="#000" font-weight="bold" >2</text>
<line x1="339.98" y1="340.30" x2="339.98" y2="337.30" stroke="#000" stroke-width="1.2" />
<text x="339.98" y="354.40" font-size="12.5" text-anchor="middle" fill="#000" font-weight="bold" >4</text>
<line x1="374.52" y1="340.30" x2="374.52" y2="337.30" stroke="#000" stroke-width="1.2" />
<text x="374.52" y="354.40" font-size="12.5" text-anchor="middle" fill="#000" font-weight="bold" >6</text>
<line x1="409.06" y1="340.30" x2="409.06" y2="337.30" stroke="#000" stroke-width="1.2" />
<text x="409.06" y="354.40" font-size="12.5" text-anchor="middle" fill="#000" font-weight="bold" >8</text>
<line x1="443.60" y1="340.30" x2="443.60" y2="337.30" stroke="#000" stroke-width="1.2" />
<text x="443.60" y="354.40" font-size="12.5" text-anchor="middle" fill="#000" font-weight="bold" >10</text>
<line x1="288.17" y1="340.30" x2="288.17" y2="338.50" stroke="#000" stroke-width="1" />
<line x1="322.71" y1="340.30" x2="322.71" y2="338.50" stroke="#000" stroke-width="1" />
<line x1="357.25" y1="340.30" x2="357.25" y2="338.50" stroke="#000" stroke-width="1" />
<line x1="391.79" y1="340.30" x2="391.79" y2="338.50" stroke="#000" stroke-width="1" />
<line x1="426.33" y1="340.30" x2="426.33" y2="338.50" stroke="#000" stroke-width="1" />
<text x="362.00" y="368.30" font-size="14" text-anchor="middle" fill="#000" font-weight="bold" >Time (min)</text>
<text x="0.00" y="0.00" font-size="14" text-anchor="middle" fill="#000" font-weight="bold" transform="translate(241.0,267.3) rotate(-90)">Temperature (°C)</text>
<line x1="274.20" y1="200.20" x2="286.80" y2="200.20" stroke="#555555" stroke-width="1.2" />
<rect x="278.10" y="197.80" width="4.80" height="4.80" fill="#555555"/>
<text x="289.30" y="203.50" font-size="9.4" text-anchor="start" fill="#000" font-weight="bold" >WP MW 10 min</text>
<line x1="274.20" y1="210.50" x2="286.80" y2="210.50" stroke="#ee4444" stroke-width="1.2" />
<circle cx="280.50" cy="210.50" r="2.60" fill="#ee4444"/>
<text x="289.30" y="213.80" font-size="9.4" text-anchor="start" fill="#000" font-weight="bold" >2%KOH/2%PS Non-MW 10 min</text>
<line x1="274.20" y1="220.80" x2="286.80" y2="220.80" stroke="#2a78e8" stroke-width="1.2" />
<path d="M280.50,217.40 L283.70,223.00 L277.30,223.00 Z" fill="#2a78e8"/>
<text x="289.30" y="224.10" font-size="9.4" text-anchor="start" fill="#000" font-weight="bold" >2%KOH/2%PS MW 10 min</text>
<line x1="274.20" y1="231.10" x2="286.80" y2="231.10" stroke="#3aa868" stroke-width="1.2" />
<path d="M280.50,234.50 L283.70,228.90 L277.30,228.90 Z" fill="#3aa868"/>
<text x="289.30" y="234.40" font-size="9.4" text-anchor="start" fill="#000" font-weight="bold" >8%KOH/8%PS Non-MW 10 min</text>
<rect x="487.90" y="295.46" width="28.70" height="44.44" fill="#0000a0" stroke="#000" stroke-width="0.8" />
<rect x="530.30" y="306.99" width="28.70" height="32.91" fill="#800000" stroke="#000" stroke-width="0.8" />
<rect x="572.70" y="241.24" width="28.70" height="98.66" fill="#0000a0" stroke="#000" stroke-width="0.8" />
<rect x="615.30" y="218.42" width="28.70" height="121.48" fill="#800000" stroke="#000" stroke-width="0.8" />
<line x1="503.00" y1="292.29" x2="503.00" y2="298.64" stroke="#000" stroke-width="0.9" />
<line x1="498.50" y1="292.29" x2="507.50" y2="292.29" stroke="#000" stroke-width="0.9" />
<line x1="498.50" y1="298.64" x2="507.50" y2="298.64" stroke="#000" stroke-width="0.9" />
<line x1="545.50" y1="302.15" x2="545.50" y2="311.59" stroke="#000" stroke-width="0.9" />
<line x1="541.00" y1="302.15" x2="550.00" y2="302.15" stroke="#000" stroke-width="0.9" />
<line x1="541.00" y1="311.59" x2="550.00" y2="311.59" stroke="#000" stroke-width="0.9" />
<line x1="588.20" y1="235.95" x2="588.20" y2="246.53" stroke="#000" stroke-width="0.9" />
<line x1="583.70" y1="235.95" x2="592.70" y2="235.95" stroke="#000" stroke-width="0.9" />
<line x1="583.70" y1="246.53" x2="592.70" y2="246.53" stroke="#000" stroke-width="0.9" />
<line x1="630.20" y1="213.09" x2="630.20" y2="224.22" stroke="#000" stroke-width="0.9" />
<line x1="625.70" y1="213.09" x2="634.70" y2="213.09" stroke="#000" stroke-width="0.9" />
<line x1="625.70" y1="224.22" x2="634.70" y2="224.22" stroke="#000" stroke-width="0.9" />
<circle cx="498.20" cy="292.50" r="2.1" fill="url(#gdb)"/>
<circle cx="500.50" cy="296.80" r="2.1" fill="url(#gdb)"/>
<circle cx="499.50" cy="295.60" r="2.1" fill="url(#gdb)"/>
<circle cx="540.30" cy="305.30" r="2.1" fill="url(#gdr)"/>
<circle cx="545.50" cy="309.20" r="2.1" fill="url(#gdr)"/>
<circle cx="549.80" cy="305.70" r="2.1" fill="url(#gdr)"/>
<circle cx="586.30" cy="236.50" r="2.1" fill="url(#gdb)"/>
<circle cx="583.60" cy="243.40" r="2.1" fill="url(#gdb)"/>
<circle cx="587.90" cy="243.40" r="2.1" fill="url(#gdb)"/>
<circle cx="626.30" cy="212.30" r="2.1" fill="url(#gdr)"/>
<circle cx="624.30" cy="224.20" r="2.1" fill="url(#gdr)"/>
<circle cx="631.30" cy="219.40" r="2.1" fill="url(#gdr)"/>
<line x1="482.60" y1="194.30" x2="654.50" y2="194.30" stroke="#000" stroke-width="2" />
<line x1="481.60" y1="339.90" x2="655.50" y2="339.90" stroke="#000" stroke-width="2" />
<line x1="482.60" y1="193.30" x2="482.60" y2="339.90" stroke="#1a1aa8" stroke-width="2" />
<line x1="654.50" y1="193.30" x2="654.50" y2="339.90" stroke="#8a0a0a" stroke-width="2" />
<line x1="482.60" y1="339.90" x2="485.60" y2="339.90" stroke="#1a1aa8" stroke-width="1.2" />
<text x="479.80" y="344.20" font-size="12" text-anchor="end" fill="#1a1aa8" font-weight="bold" >0</text>
<line x1="482.60" y1="313.45" x2="485.60" y2="313.45" stroke="#1a1aa8" stroke-width="1.2" />
<text x="479.80" y="317.75" font-size="12" text-anchor="end" fill="#1a1aa8" font-weight="bold" >10</text>
<line x1="482.60" y1="287.00" x2="485.60" y2="287.00" stroke="#1a1aa8" stroke-width="1.2" />
<text x="479.80" y="291.30" font-size="12" text-anchor="end" fill="#1a1aa8" font-weight="bold" >20</text>
<line x1="482.60" y1="260.55" x2="485.60" y2="260.55" stroke="#1a1aa8" stroke-width="1.2" />
<text x="479.80" y="264.85" font-size="12" text-anchor="end" fill="#1a1aa8" font-weight="bold" >30</text>
<line x1="482.60" y1="234.10" x2="485.60" y2="234.10" stroke="#1a1aa8" stroke-width="1.2" />
<text x="479.80" y="238.40" font-size="12" text-anchor="end" fill="#1a1aa8" font-weight="bold" >40</text>
<line x1="482.60" y1="207.65" x2="485.60" y2="207.65" stroke="#1a1aa8" stroke-width="1.2" />
<text x="479.80" y="211.95" font-size="12" text-anchor="end" fill="#1a1aa8" font-weight="bold" >50</text>
<line x1="482.60" y1="326.67" x2="484.40" y2="326.67" stroke="#1a1aa8" stroke-width="1" />
<line x1="482.60" y1="300.22" x2="484.40" y2="300.22" stroke="#1a1aa8" stroke-width="1" />
<line x1="482.60" y1="273.77" x2="484.40" y2="273.77" stroke="#1a1aa8" stroke-width="1" />
<line x1="482.60" y1="247.32" x2="484.40" y2="247.32" stroke="#1a1aa8" stroke-width="1" />
<line x1="482.60" y1="220.87" x2="484.40" y2="220.87" stroke="#1a1aa8" stroke-width="1" />
<line x1="482.60" y1="194.42" x2="484.40" y2="194.42" stroke="#1a1aa8" stroke-width="1" />
<line x1="651.50" y1="339.90" x2="654.50" y2="339.90" stroke="#8a0a0a" stroke-width="1.2" />
<text x="657.40" y="344.20" font-size="12" text-anchor="start" fill="#8a0a0a" font-weight="bold" >0</text>
<line x1="651.50" y1="315.70" x2="654.50" y2="315.70" stroke="#8a0a0a" stroke-width="1.2" />
<text x="657.40" y="320.00" font-size="12" text-anchor="start" fill="#8a0a0a" font-weight="bold" >10</text>
<line x1="651.50" y1="291.50" x2="654.50" y2="291.50" stroke="#8a0a0a" stroke-width="1.2" />
<text x="657.40" y="295.80" font-size="12" text-anchor="start" fill="#8a0a0a" font-weight="bold" >20</text>
<line x1="651.50" y1="267.30" x2="654.50" y2="267.30" stroke="#8a0a0a" stroke-width="1.2" />
<text x="657.40" y="271.60" font-size="12" text-anchor="start" fill="#8a0a0a" font-weight="bold" >30</text>
<line x1="651.50" y1="243.10" x2="654.50" y2="243.10" stroke="#8a0a0a" stroke-width="1.2" />
<text x="657.40" y="247.40" font-size="12" text-anchor="start" fill="#8a0a0a" font-weight="bold" >40</text>
<line x1="651.50" y1="218.90" x2="654.50" y2="218.90" stroke="#8a0a0a" stroke-width="1.2" />
<text x="657.40" y="223.20" font-size="12" text-anchor="start" fill="#8a0a0a" font-weight="bold" >50</text>
<line x1="651.50" y1="194.70" x2="654.50" y2="194.70" stroke="#8a0a0a" stroke-width="1.2" />
<text x="657.40" y="199.00" font-size="12" text-anchor="start" fill="#8a0a0a" font-weight="bold" >60</text>
<line x1="652.70" y1="327.80" x2="654.50" y2="327.80" stroke="#8a0a0a" stroke-width="1" />
<line x1="652.70" y1="303.60" x2="654.50" y2="303.60" stroke="#8a0a0a" stroke-width="1" />
<line x1="652.70" y1="279.40" x2="654.50" y2="279.40" stroke="#8a0a0a" stroke-width="1" />
<line x1="652.70" y1="255.20" x2="654.50" y2="255.20" stroke="#8a0a0a" stroke-width="1" />
<line x1="652.70" y1="231.00" x2="654.50" y2="231.00" stroke="#8a0a0a" stroke-width="1" />
<line x1="652.70" y1="206.80" x2="654.50" y2="206.80" stroke="#8a0a0a" stroke-width="1" />
<text x="0.00" y="0.00" font-size="14" text-anchor="middle" fill="#1a1aa8" font-weight="bold" transform="translate(461.0,265.1) rotate(-90)">TOC loss rate (%)</text>
<text x="0.00" y="0.00" font-size="14" text-anchor="middle" fill="#8a0a0a" font-weight="bold" transform="translate(683.0,265.4) rotate(-90)">TN loss rate (%)</text>
<text x="526.00" y="355.20" font-size="10.3" text-anchor="middle" fill="#000" font-weight="bold" >2%KOH/2%PS</text>
<text x="526.00" y="367.60" font-size="10.3" text-anchor="middle" fill="#000" font-weight="bold" >MW 10 min</text>
<text x="612.00" y="355.20" font-size="10.3" text-anchor="middle" fill="#000" font-weight="bold" >8%KOH/8%PS</text>
<text x="612.00" y="367.60" font-size="10.3" text-anchor="middle" fill="#000" font-weight="bold" >Non-MW 60 min</text>
</svg>
</body></html>
